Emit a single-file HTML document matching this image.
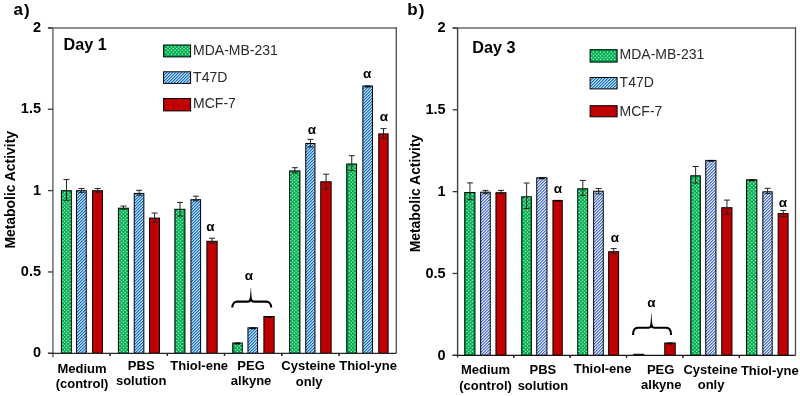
<!DOCTYPE html><html><head><meta charset="utf-8"><style>html,body{margin:0;padding:0;background:#fff;}svg{display:block;will-change:transform;}text{font-family:"Liberation Sans", sans-serif;}</style></head><body>
<svg width="800" height="396" viewBox="0 0 800 396">
<defs>
<pattern id="hatchA" patternUnits="userSpaceOnUse" width="3" height="3"><rect width="3" height="3" fill="#fff"/><path d="M1.35 0H3L0 3V1.35ZM3 1.35V3H1.35Z" fill="#0066C2"/></pattern>
<pattern id="hatchB" patternUnits="userSpaceOnUse" width="3" height="3"><rect width="3" height="3" fill="#fff"/><path d="M1.5 0H3L0 3V1.5ZM3 1.5V3H1.5Z" fill="#2C5CC6"/></pattern>
</defs>
<rect width="800" height="396" fill="#fff"/>
<path d="M47.9 27.9H396.3" stroke="#686868" stroke-width="1.5" fill="none"/>
<path d="M396.3 27.2V353.3" stroke="#4A4A4A" stroke-width="1.3" fill="none"/>
<rect x="61.4" y="190.7" width="9.95" height="162.6" fill="#00AD4F" stroke="#000" stroke-width="1"/>
<path d="M64.08 192.24h1.25v1.25h-1.25zM67.64 192.24h1.25v1.25h-1.25zM62.3 194.02h1.25v1.25h-1.25zM65.86 194.02h1.25v1.25h-1.25zM69.42 194.02h1.25v1.25h-1.25zM64.08 195.8h1.25v1.25h-1.25zM67.64 195.8h1.25v1.25h-1.25zM62.3 197.58h1.25v1.25h-1.25zM65.86 197.58h1.25v1.25h-1.25zM69.42 197.58h1.25v1.25h-1.25zM64.08 199.36h1.25v1.25h-1.25zM67.64 199.36h1.25v1.25h-1.25zM62.3 201.14h1.25v1.25h-1.25zM65.86 201.14h1.25v1.25h-1.25zM69.42 201.14h1.25v1.25h-1.25zM64.08 202.92h1.25v1.25h-1.25zM67.64 202.92h1.25v1.25h-1.25zM62.3 204.7h1.25v1.25h-1.25zM65.86 204.7h1.25v1.25h-1.25zM69.42 204.7h1.25v1.25h-1.25zM64.08 206.48h1.25v1.25h-1.25zM67.64 206.48h1.25v1.25h-1.25zM62.3 208.26h1.25v1.25h-1.25zM65.86 208.26h1.25v1.25h-1.25zM69.42 208.26h1.25v1.25h-1.25zM64.08 210.04h1.25v1.25h-1.25zM67.64 210.04h1.25v1.25h-1.25zM62.3 211.82h1.25v1.25h-1.25zM65.86 211.82h1.25v1.25h-1.25zM69.42 211.82h1.25v1.25h-1.25zM64.08 213.6h1.25v1.25h-1.25zM67.64 213.6h1.25v1.25h-1.25zM62.3 215.38h1.25v1.25h-1.25zM65.86 215.38h1.25v1.25h-1.25zM69.42 215.38h1.25v1.25h-1.25zM64.08 217.16h1.25v1.25h-1.25zM67.64 217.16h1.25v1.25h-1.25zM62.3 218.94h1.25v1.25h-1.25zM65.86 218.94h1.25v1.25h-1.25zM69.42 218.94h1.25v1.25h-1.25zM64.08 220.72h1.25v1.25h-1.25zM67.64 220.72h1.25v1.25h-1.25zM62.3 222.5h1.25v1.25h-1.25zM65.86 222.5h1.25v1.25h-1.25zM69.42 222.5h1.25v1.25h-1.25zM64.08 224.28h1.25v1.25h-1.25zM67.64 224.28h1.25v1.25h-1.25zM62.3 226.06h1.25v1.25h-1.25zM65.86 226.06h1.25v1.25h-1.25zM69.42 226.06h1.25v1.25h-1.25zM64.08 227.84h1.25v1.25h-1.25zM67.64 227.84h1.25v1.25h-1.25zM62.3 229.62h1.25v1.25h-1.25zM65.86 229.62h1.25v1.25h-1.25zM69.42 229.62h1.25v1.25h-1.25zM64.08 231.4h1.25v1.25h-1.25zM67.64 231.4h1.25v1.25h-1.25zM62.3 233.18h1.25v1.25h-1.25zM65.86 233.18h1.25v1.25h-1.25zM69.42 233.18h1.25v1.25h-1.25zM64.08 234.96h1.25v1.25h-1.25zM67.64 234.96h1.25v1.25h-1.25zM62.3 236.74h1.25v1.25h-1.25zM65.86 236.74h1.25v1.25h-1.25zM69.42 236.74h1.25v1.25h-1.25zM64.08 238.52h1.25v1.25h-1.25zM67.64 238.52h1.25v1.25h-1.25zM62.3 240.3h1.25v1.25h-1.25zM65.86 240.3h1.25v1.25h-1.25zM69.42 240.3h1.25v1.25h-1.25zM64.08 242.08h1.25v1.25h-1.25zM67.64 242.08h1.25v1.25h-1.25zM62.3 243.86h1.25v1.25h-1.25zM65.86 243.86h1.25v1.25h-1.25zM69.42 243.86h1.25v1.25h-1.25zM64.08 245.64h1.25v1.25h-1.25zM67.64 245.64h1.25v1.25h-1.25zM62.3 247.42h1.25v1.25h-1.25zM65.86 247.42h1.25v1.25h-1.25zM69.42 247.42h1.25v1.25h-1.25zM64.08 249.2h1.25v1.25h-1.25zM67.64 249.2h1.25v1.25h-1.25zM62.3 250.98h1.25v1.25h-1.25zM65.86 250.98h1.25v1.25h-1.25zM69.42 250.98h1.25v1.25h-1.25zM64.08 252.76h1.25v1.25h-1.25zM67.64 252.76h1.25v1.25h-1.25zM62.3 254.54h1.25v1.25h-1.25zM65.86 254.54h1.25v1.25h-1.25zM69.42 254.54h1.25v1.25h-1.25zM64.08 256.32h1.25v1.25h-1.25zM67.64 256.32h1.25v1.25h-1.25zM62.3 258.1h1.25v1.25h-1.25zM65.86 258.1h1.25v1.25h-1.25zM69.42 258.1h1.25v1.25h-1.25zM64.08 259.88h1.25v1.25h-1.25zM67.64 259.88h1.25v1.25h-1.25zM62.3 261.66h1.25v1.25h-1.25zM65.86 261.66h1.25v1.25h-1.25zM69.42 261.66h1.25v1.25h-1.25zM64.08 263.44h1.25v1.25h-1.25zM67.64 263.44h1.25v1.25h-1.25zM62.3 265.22h1.25v1.25h-1.25zM65.86 265.22h1.25v1.25h-1.25zM69.42 265.22h1.25v1.25h-1.25zM64.08 267h1.25v1.25h-1.25zM67.64 267h1.25v1.25h-1.25zM62.3 268.78h1.25v1.25h-1.25zM65.86 268.78h1.25v1.25h-1.25zM69.42 268.78h1.25v1.25h-1.25zM64.08 270.56h1.25v1.25h-1.25zM67.64 270.56h1.25v1.25h-1.25zM62.3 272.34h1.25v1.25h-1.25zM65.86 272.34h1.25v1.25h-1.25zM69.42 272.34h1.25v1.25h-1.25zM64.08 274.12h1.25v1.25h-1.25zM67.64 274.12h1.25v1.25h-1.25zM62.3 275.9h1.25v1.25h-1.25zM65.86 275.9h1.25v1.25h-1.25zM69.42 275.9h1.25v1.25h-1.25zM64.08 277.68h1.25v1.25h-1.25zM67.64 277.68h1.25v1.25h-1.25zM62.3 279.46h1.25v1.25h-1.25zM65.86 279.46h1.25v1.25h-1.25zM69.42 279.46h1.25v1.25h-1.25zM64.08 281.24h1.25v1.25h-1.25zM67.64 281.24h1.25v1.25h-1.25zM62.3 283.02h1.25v1.25h-1.25zM65.86 283.02h1.25v1.25h-1.25zM69.42 283.02h1.25v1.25h-1.25zM64.08 284.8h1.25v1.25h-1.25zM67.64 284.8h1.25v1.25h-1.25zM62.3 286.58h1.25v1.25h-1.25zM65.86 286.58h1.25v1.25h-1.25zM69.42 286.58h1.25v1.25h-1.25zM64.08 288.36h1.25v1.25h-1.25zM67.64 288.36h1.25v1.25h-1.25zM62.3 290.14h1.25v1.25h-1.25zM65.86 290.14h1.25v1.25h-1.25zM69.42 290.14h1.25v1.25h-1.25zM64.08 291.92h1.25v1.25h-1.25zM67.64 291.92h1.25v1.25h-1.25zM62.3 293.7h1.25v1.25h-1.25zM65.86 293.7h1.25v1.25h-1.25zM69.42 293.7h1.25v1.25h-1.25zM64.08 295.48h1.25v1.25h-1.25zM67.64 295.48h1.25v1.25h-1.25zM62.3 297.26h1.25v1.25h-1.25zM65.86 297.26h1.25v1.25h-1.25zM69.42 297.26h1.25v1.25h-1.25zM64.08 299.04h1.25v1.25h-1.25zM67.64 299.04h1.25v1.25h-1.25zM62.3 300.82h1.25v1.25h-1.25zM65.86 300.82h1.25v1.25h-1.25zM69.42 300.82h1.25v1.25h-1.25zM64.08 302.6h1.25v1.25h-1.25zM67.64 302.6h1.25v1.25h-1.25zM62.3 304.38h1.25v1.25h-1.25zM65.86 304.38h1.25v1.25h-1.25zM69.42 304.38h1.25v1.25h-1.25zM64.08 306.16h1.25v1.25h-1.25zM67.64 306.16h1.25v1.25h-1.25zM62.3 307.94h1.25v1.25h-1.25zM65.86 307.94h1.25v1.25h-1.25zM69.42 307.94h1.25v1.25h-1.25zM64.08 309.72h1.25v1.25h-1.25zM67.64 309.72h1.25v1.25h-1.25zM62.3 311.5h1.25v1.25h-1.25zM65.86 311.5h1.25v1.25h-1.25zM69.42 311.5h1.25v1.25h-1.25zM64.08 313.28h1.25v1.25h-1.25zM67.64 313.28h1.25v1.25h-1.25zM62.3 315.06h1.25v1.25h-1.25zM65.86 315.06h1.25v1.25h-1.25zM69.42 315.06h1.25v1.25h-1.25zM64.08 316.84h1.25v1.25h-1.25zM67.64 316.84h1.25v1.25h-1.25zM62.3 318.62h1.25v1.25h-1.25zM65.86 318.62h1.25v1.25h-1.25zM69.42 318.62h1.25v1.25h-1.25zM64.08 320.4h1.25v1.25h-1.25zM67.64 320.4h1.25v1.25h-1.25zM62.3 322.18h1.25v1.25h-1.25zM65.86 322.18h1.25v1.25h-1.25zM69.42 322.18h1.25v1.25h-1.25zM64.08 323.96h1.25v1.25h-1.25zM67.64 323.96h1.25v1.25h-1.25zM62.3 325.74h1.25v1.25h-1.25zM65.86 325.74h1.25v1.25h-1.25zM69.42 325.74h1.25v1.25h-1.25zM64.08 327.52h1.25v1.25h-1.25zM67.64 327.52h1.25v1.25h-1.25zM62.3 329.3h1.25v1.25h-1.25zM65.86 329.3h1.25v1.25h-1.25zM69.42 329.3h1.25v1.25h-1.25zM64.08 331.08h1.25v1.25h-1.25zM67.64 331.08h1.25v1.25h-1.25zM62.3 332.86h1.25v1.25h-1.25zM65.86 332.86h1.25v1.25h-1.25zM69.42 332.86h1.25v1.25h-1.25zM64.08 334.64h1.25v1.25h-1.25zM67.64 334.64h1.25v1.25h-1.25zM62.3 336.42h1.25v1.25h-1.25zM65.86 336.42h1.25v1.25h-1.25zM69.42 336.42h1.25v1.25h-1.25zM64.08 338.2h1.25v1.25h-1.25zM67.64 338.2h1.25v1.25h-1.25zM62.3 339.98h1.25v1.25h-1.25zM65.86 339.98h1.25v1.25h-1.25zM69.42 339.98h1.25v1.25h-1.25zM64.08 341.76h1.25v1.25h-1.25zM67.64 341.76h1.25v1.25h-1.25zM62.3 343.54h1.25v1.25h-1.25zM65.86 343.54h1.25v1.25h-1.25zM69.42 343.54h1.25v1.25h-1.25zM64.08 345.32h1.25v1.25h-1.25zM67.64 345.32h1.25v1.25h-1.25zM62.3 347.1h1.25v1.25h-1.25zM65.86 347.1h1.25v1.25h-1.25zM69.42 347.1h1.25v1.25h-1.25zM64.08 348.88h1.25v1.25h-1.25zM67.64 348.88h1.25v1.25h-1.25zM62.3 350.66h1.25v1.25h-1.25zM65.86 350.66h1.25v1.25h-1.25zM69.42 350.66h1.25v1.25h-1.25z" fill="#B4F2CA"/>
<path d="M66.47 179.6V200.3M63.47 179.6H69.47M63.47 200.3H69.47" stroke="#222" stroke-width="1" fill="none"/>
<rect x="76.55" y="190.7" width="9.7" height="162.6" fill="url(#hatchA)" stroke="#000" stroke-width="1"/>
<path d="M81.5 188.5V192.4M78.5 188.5H84.5M78.5 192.4H84.5" stroke="#222" stroke-width="1" fill="none"/>
<rect x="92.55" y="190.7" width="9.9" height="162.6" fill="#C00000" stroke="#000" stroke-width="1"/>
<path d="M97.6 188.5V192.2M94.6 188.5H100.6M94.6 192.2H100.6" stroke="#222" stroke-width="1" fill="none"/>
<rect x="118.4" y="208.2" width="9.95" height="145.1" fill="#00AD4F" stroke="#000" stroke-width="1"/>
<path d="M121.04 210.04h1.25v1.25h-1.25zM124.6 210.04h1.25v1.25h-1.25zM119.26 211.82h1.25v1.25h-1.25zM122.82 211.82h1.25v1.25h-1.25zM126.38 211.82h1.25v1.25h-1.25zM121.04 213.6h1.25v1.25h-1.25zM124.6 213.6h1.25v1.25h-1.25zM119.26 215.38h1.25v1.25h-1.25zM122.82 215.38h1.25v1.25h-1.25zM126.38 215.38h1.25v1.25h-1.25zM121.04 217.16h1.25v1.25h-1.25zM124.6 217.16h1.25v1.25h-1.25zM119.26 218.94h1.25v1.25h-1.25zM122.82 218.94h1.25v1.25h-1.25zM126.38 218.94h1.25v1.25h-1.25zM121.04 220.72h1.25v1.25h-1.25zM124.6 220.72h1.25v1.25h-1.25zM119.26 222.5h1.25v1.25h-1.25zM122.82 222.5h1.25v1.25h-1.25zM126.38 222.5h1.25v1.25h-1.25zM121.04 224.28h1.25v1.25h-1.25zM124.6 224.28h1.25v1.25h-1.25zM119.26 226.06h1.25v1.25h-1.25zM122.82 226.06h1.25v1.25h-1.25zM126.38 226.06h1.25v1.25h-1.25zM121.04 227.84h1.25v1.25h-1.25zM124.6 227.84h1.25v1.25h-1.25zM119.26 229.62h1.25v1.25h-1.25zM122.82 229.62h1.25v1.25h-1.25zM126.38 229.62h1.25v1.25h-1.25zM121.04 231.4h1.25v1.25h-1.25zM124.6 231.4h1.25v1.25h-1.25zM119.26 233.18h1.25v1.25h-1.25zM122.82 233.18h1.25v1.25h-1.25zM126.38 233.18h1.25v1.25h-1.25zM121.04 234.96h1.25v1.25h-1.25zM124.6 234.96h1.25v1.25h-1.25zM119.26 236.74h1.25v1.25h-1.25zM122.82 236.74h1.25v1.25h-1.25zM126.38 236.74h1.25v1.25h-1.25zM121.04 238.52h1.25v1.25h-1.25zM124.6 238.52h1.25v1.25h-1.25zM119.26 240.3h1.25v1.25h-1.25zM122.82 240.3h1.25v1.25h-1.25zM126.38 240.3h1.25v1.25h-1.25zM121.04 242.08h1.25v1.25h-1.25zM124.6 242.08h1.25v1.25h-1.25zM119.26 243.86h1.25v1.25h-1.25zM122.82 243.86h1.25v1.25h-1.25zM126.38 243.86h1.25v1.25h-1.25zM121.04 245.64h1.25v1.25h-1.25zM124.6 245.64h1.25v1.25h-1.25zM119.26 247.42h1.25v1.25h-1.25zM122.82 247.42h1.25v1.25h-1.25zM126.38 247.42h1.25v1.25h-1.25zM121.04 249.2h1.25v1.25h-1.25zM124.6 249.2h1.25v1.25h-1.25zM119.26 250.98h1.25v1.25h-1.25zM122.82 250.98h1.25v1.25h-1.25zM126.38 250.98h1.25v1.25h-1.25zM121.04 252.76h1.25v1.25h-1.25zM124.6 252.76h1.25v1.25h-1.25zM119.26 254.54h1.25v1.25h-1.25zM122.82 254.54h1.25v1.25h-1.25zM126.38 254.54h1.25v1.25h-1.25zM121.04 256.32h1.25v1.25h-1.25zM124.6 256.32h1.25v1.25h-1.25zM119.26 258.1h1.25v1.25h-1.25zM122.82 258.1h1.25v1.25h-1.25zM126.38 258.1h1.25v1.25h-1.25zM121.04 259.88h1.25v1.25h-1.25zM124.6 259.88h1.25v1.25h-1.25zM119.26 261.66h1.25v1.25h-1.25zM122.82 261.66h1.25v1.25h-1.25zM126.38 261.66h1.25v1.25h-1.25zM121.04 263.44h1.25v1.25h-1.25zM124.6 263.44h1.25v1.25h-1.25zM119.26 265.22h1.25v1.25h-1.25zM122.82 265.22h1.25v1.25h-1.25zM126.38 265.22h1.25v1.25h-1.25zM121.04 267h1.25v1.25h-1.25zM124.6 267h1.25v1.25h-1.25zM119.26 268.78h1.25v1.25h-1.25zM122.82 268.78h1.25v1.25h-1.25zM126.38 268.78h1.25v1.25h-1.25zM121.04 270.56h1.25v1.25h-1.25zM124.6 270.56h1.25v1.25h-1.25zM119.26 272.34h1.25v1.25h-1.25zM122.82 272.34h1.25v1.25h-1.25zM126.38 272.34h1.25v1.25h-1.25zM121.04 274.12h1.25v1.25h-1.25zM124.6 274.12h1.25v1.25h-1.25zM119.26 275.9h1.25v1.25h-1.25zM122.82 275.9h1.25v1.25h-1.25zM126.38 275.9h1.25v1.25h-1.25zM121.04 277.68h1.25v1.25h-1.25zM124.6 277.68h1.25v1.25h-1.25zM119.26 279.46h1.25v1.25h-1.25zM122.82 279.46h1.25v1.25h-1.25zM126.38 279.46h1.25v1.25h-1.25zM121.04 281.24h1.25v1.25h-1.25zM124.6 281.24h1.25v1.25h-1.25zM119.26 283.02h1.25v1.25h-1.25zM122.82 283.02h1.25v1.25h-1.25zM126.38 283.02h1.25v1.25h-1.25zM121.04 284.8h1.25v1.25h-1.25zM124.6 284.8h1.25v1.25h-1.25zM119.26 286.58h1.25v1.25h-1.25zM122.82 286.58h1.25v1.25h-1.25zM126.38 286.58h1.25v1.25h-1.25zM121.04 288.36h1.25v1.25h-1.25zM124.6 288.36h1.25v1.25h-1.25zM119.26 290.14h1.25v1.25h-1.25zM122.82 290.14h1.25v1.25h-1.25zM126.38 290.14h1.25v1.25h-1.25zM121.04 291.92h1.25v1.25h-1.25zM124.6 291.92h1.25v1.25h-1.25zM119.26 293.7h1.25v1.25h-1.25zM122.82 293.7h1.25v1.25h-1.25zM126.38 293.7h1.25v1.25h-1.25zM121.04 295.48h1.25v1.25h-1.25zM124.6 295.48h1.25v1.25h-1.25zM119.26 297.26h1.25v1.25h-1.25zM122.82 297.26h1.25v1.25h-1.25zM126.38 297.26h1.25v1.25h-1.25zM121.04 299.04h1.25v1.25h-1.25zM124.6 299.04h1.25v1.25h-1.25zM119.26 300.82h1.25v1.25h-1.25zM122.82 300.82h1.25v1.25h-1.25zM126.38 300.82h1.25v1.25h-1.25zM121.04 302.6h1.25v1.25h-1.25zM124.6 302.6h1.25v1.25h-1.25zM119.26 304.38h1.25v1.25h-1.25zM122.82 304.38h1.25v1.25h-1.25zM126.38 304.38h1.25v1.25h-1.25zM121.04 306.16h1.25v1.25h-1.25zM124.6 306.16h1.25v1.25h-1.25zM119.26 307.94h1.25v1.25h-1.25zM122.82 307.94h1.25v1.25h-1.25zM126.38 307.94h1.25v1.25h-1.25zM121.04 309.72h1.25v1.25h-1.25zM124.6 309.72h1.25v1.25h-1.25zM119.26 311.5h1.25v1.25h-1.25zM122.82 311.5h1.25v1.25h-1.25zM126.38 311.5h1.25v1.25h-1.25zM121.04 313.28h1.25v1.25h-1.25zM124.6 313.28h1.25v1.25h-1.25zM119.26 315.06h1.25v1.25h-1.25zM122.82 315.06h1.25v1.25h-1.25zM126.38 315.06h1.25v1.25h-1.25zM121.04 316.84h1.25v1.25h-1.25zM124.6 316.84h1.25v1.25h-1.25zM119.26 318.62h1.25v1.25h-1.25zM122.82 318.62h1.25v1.25h-1.25zM126.38 318.62h1.25v1.25h-1.25zM121.04 320.4h1.25v1.25h-1.25zM124.6 320.4h1.25v1.25h-1.25zM119.26 322.18h1.25v1.25h-1.25zM122.82 322.18h1.25v1.25h-1.25zM126.38 322.18h1.25v1.25h-1.25zM121.04 323.96h1.25v1.25h-1.25zM124.6 323.96h1.25v1.25h-1.25zM119.26 325.74h1.25v1.25h-1.25zM122.82 325.74h1.25v1.25h-1.25zM126.38 325.74h1.25v1.25h-1.25zM121.04 327.52h1.25v1.25h-1.25zM124.6 327.52h1.25v1.25h-1.25zM119.26 329.3h1.25v1.25h-1.25zM122.82 329.3h1.25v1.25h-1.25zM126.38 329.3h1.25v1.25h-1.25zM121.04 331.08h1.25v1.25h-1.25zM124.6 331.08h1.25v1.25h-1.25zM119.26 332.86h1.25v1.25h-1.25zM122.82 332.86h1.25v1.25h-1.25zM126.38 332.86h1.25v1.25h-1.25zM121.04 334.64h1.25v1.25h-1.25zM124.6 334.64h1.25v1.25h-1.25zM119.26 336.42h1.25v1.25h-1.25zM122.82 336.42h1.25v1.25h-1.25zM126.38 336.42h1.25v1.25h-1.25zM121.04 338.2h1.25v1.25h-1.25zM124.6 338.2h1.25v1.25h-1.25zM119.26 339.98h1.25v1.25h-1.25zM122.82 339.98h1.25v1.25h-1.25zM126.38 339.98h1.25v1.25h-1.25zM121.04 341.76h1.25v1.25h-1.25zM124.6 341.76h1.25v1.25h-1.25zM119.26 343.54h1.25v1.25h-1.25zM122.82 343.54h1.25v1.25h-1.25zM126.38 343.54h1.25v1.25h-1.25zM121.04 345.32h1.25v1.25h-1.25zM124.6 345.32h1.25v1.25h-1.25zM119.26 347.1h1.25v1.25h-1.25zM122.82 347.1h1.25v1.25h-1.25zM126.38 347.1h1.25v1.25h-1.25zM121.04 348.88h1.25v1.25h-1.25zM124.6 348.88h1.25v1.25h-1.25zM119.26 350.66h1.25v1.25h-1.25zM122.82 350.66h1.25v1.25h-1.25zM126.38 350.66h1.25v1.25h-1.25z" fill="#B4F2CA"/>
<path d="M123.47 206.1V209.2M120.47 206.1H126.47M120.47 209.2H126.47" stroke="#222" stroke-width="1" fill="none"/>
<rect x="134.25" y="193.4" width="9.6" height="159.9" fill="url(#hatchA)" stroke="#000" stroke-width="1"/>
<path d="M139.15 190.3V195.2M136.15 190.3H142.15M136.15 195.2H142.15" stroke="#222" stroke-width="1" fill="none"/>
<rect x="149.55" y="218.1" width="9.9" height="135.2" fill="#C00000" stroke="#000" stroke-width="1"/>
<path d="M154.6 213V222.4M151.6 213H157.6M151.6 222.4H157.6" stroke="#222" stroke-width="1" fill="none"/>
<rect x="174.9" y="209.3" width="10.05" height="144" fill="#00AD4F" stroke="#000" stroke-width="1"/>
<path d="M178 210.04h1.25v1.25h-1.25zM181.56 210.04h1.25v1.25h-1.25zM176.22 211.82h1.25v1.25h-1.25zM179.78 211.82h1.25v1.25h-1.25zM178 213.6h1.25v1.25h-1.25zM181.56 213.6h1.25v1.25h-1.25zM176.22 215.38h1.25v1.25h-1.25zM179.78 215.38h1.25v1.25h-1.25zM178 217.16h1.25v1.25h-1.25zM181.56 217.16h1.25v1.25h-1.25zM176.22 218.94h1.25v1.25h-1.25zM179.78 218.94h1.25v1.25h-1.25zM178 220.72h1.25v1.25h-1.25zM181.56 220.72h1.25v1.25h-1.25zM176.22 222.5h1.25v1.25h-1.25zM179.78 222.5h1.25v1.25h-1.25zM178 224.28h1.25v1.25h-1.25zM181.56 224.28h1.25v1.25h-1.25zM176.22 226.06h1.25v1.25h-1.25zM179.78 226.06h1.25v1.25h-1.25zM178 227.84h1.25v1.25h-1.25zM181.56 227.84h1.25v1.25h-1.25zM176.22 229.62h1.25v1.25h-1.25zM179.78 229.62h1.25v1.25h-1.25zM178 231.4h1.25v1.25h-1.25zM181.56 231.4h1.25v1.25h-1.25zM176.22 233.18h1.25v1.25h-1.25zM179.78 233.18h1.25v1.25h-1.25zM178 234.96h1.25v1.25h-1.25zM181.56 234.96h1.25v1.25h-1.25zM176.22 236.74h1.25v1.25h-1.25zM179.78 236.74h1.25v1.25h-1.25zM178 238.52h1.25v1.25h-1.25zM181.56 238.52h1.25v1.25h-1.25zM176.22 240.3h1.25v1.25h-1.25zM179.78 240.3h1.25v1.25h-1.25zM178 242.08h1.25v1.25h-1.25zM181.56 242.08h1.25v1.25h-1.25zM176.22 243.86h1.25v1.25h-1.25zM179.78 243.86h1.25v1.25h-1.25zM178 245.64h1.25v1.25h-1.25zM181.56 245.64h1.25v1.25h-1.25zM176.22 247.42h1.25v1.25h-1.25zM179.78 247.42h1.25v1.25h-1.25zM178 249.2h1.25v1.25h-1.25zM181.56 249.2h1.25v1.25h-1.25zM176.22 250.98h1.25v1.25h-1.25zM179.78 250.98h1.25v1.25h-1.25zM178 252.76h1.25v1.25h-1.25zM181.56 252.76h1.25v1.25h-1.25zM176.22 254.54h1.25v1.25h-1.25zM179.78 254.54h1.25v1.25h-1.25zM178 256.32h1.25v1.25h-1.25zM181.56 256.32h1.25v1.25h-1.25zM176.22 258.1h1.25v1.25h-1.25zM179.78 258.1h1.25v1.25h-1.25zM178 259.88h1.25v1.25h-1.25zM181.56 259.88h1.25v1.25h-1.25zM176.22 261.66h1.25v1.25h-1.25zM179.78 261.66h1.25v1.25h-1.25zM178 263.44h1.25v1.25h-1.25zM181.56 263.44h1.25v1.25h-1.25zM176.22 265.22h1.25v1.25h-1.25zM179.78 265.22h1.25v1.25h-1.25zM178 267h1.25v1.25h-1.25zM181.56 267h1.25v1.25h-1.25zM176.22 268.78h1.25v1.25h-1.25zM179.78 268.78h1.25v1.25h-1.25zM178 270.56h1.25v1.25h-1.25zM181.56 270.56h1.25v1.25h-1.25zM176.22 272.34h1.25v1.25h-1.25zM179.78 272.34h1.25v1.25h-1.25zM178 274.12h1.25v1.25h-1.25zM181.56 274.12h1.25v1.25h-1.25zM176.22 275.9h1.25v1.25h-1.25zM179.78 275.9h1.25v1.25h-1.25zM178 277.68h1.25v1.25h-1.25zM181.56 277.68h1.25v1.25h-1.25zM176.22 279.46h1.25v1.25h-1.25zM179.78 279.46h1.25v1.25h-1.25zM178 281.24h1.25v1.25h-1.25zM181.56 281.24h1.25v1.25h-1.25zM176.22 283.02h1.25v1.25h-1.25zM179.78 283.02h1.25v1.25h-1.25zM178 284.8h1.25v1.25h-1.25zM181.56 284.8h1.25v1.25h-1.25zM176.22 286.58h1.25v1.25h-1.25zM179.78 286.58h1.25v1.25h-1.25zM178 288.36h1.25v1.25h-1.25zM181.56 288.36h1.25v1.25h-1.25zM176.22 290.14h1.25v1.25h-1.25zM179.78 290.14h1.25v1.25h-1.25zM178 291.92h1.25v1.25h-1.25zM181.56 291.92h1.25v1.25h-1.25zM176.22 293.7h1.25v1.25h-1.25zM179.78 293.7h1.25v1.25h-1.25zM178 295.48h1.25v1.25h-1.25zM181.56 295.48h1.25v1.25h-1.25zM176.22 297.26h1.25v1.25h-1.25zM179.78 297.26h1.25v1.25h-1.25zM178 299.04h1.25v1.25h-1.25zM181.56 299.04h1.25v1.25h-1.25zM176.22 300.82h1.25v1.25h-1.25zM179.78 300.82h1.25v1.25h-1.25zM178 302.6h1.25v1.25h-1.25zM181.56 302.6h1.25v1.25h-1.25zM176.22 304.38h1.25v1.25h-1.25zM179.78 304.38h1.25v1.25h-1.25zM178 306.16h1.25v1.25h-1.25zM181.56 306.16h1.25v1.25h-1.25zM176.22 307.94h1.25v1.25h-1.25zM179.78 307.94h1.25v1.25h-1.25zM178 309.72h1.25v1.25h-1.25zM181.56 309.72h1.25v1.25h-1.25zM176.22 311.5h1.25v1.25h-1.25zM179.78 311.5h1.25v1.25h-1.25zM178 313.28h1.25v1.25h-1.25zM181.56 313.28h1.25v1.25h-1.25zM176.22 315.06h1.25v1.25h-1.25zM179.78 315.06h1.25v1.25h-1.25zM178 316.84h1.25v1.25h-1.25zM181.56 316.84h1.25v1.25h-1.25zM176.22 318.62h1.25v1.25h-1.25zM179.78 318.62h1.25v1.25h-1.25zM178 320.4h1.25v1.25h-1.25zM181.56 320.4h1.25v1.25h-1.25zM176.22 322.18h1.25v1.25h-1.25zM179.78 322.18h1.25v1.25h-1.25zM178 323.96h1.25v1.25h-1.25zM181.56 323.96h1.25v1.25h-1.25zM176.22 325.74h1.25v1.25h-1.25zM179.78 325.74h1.25v1.25h-1.25zM178 327.52h1.25v1.25h-1.25zM181.56 327.52h1.25v1.25h-1.25zM176.22 329.3h1.25v1.25h-1.25zM179.78 329.3h1.25v1.25h-1.25zM178 331.08h1.25v1.25h-1.25zM181.56 331.08h1.25v1.25h-1.25zM176.22 332.86h1.25v1.25h-1.25zM179.78 332.86h1.25v1.25h-1.25zM178 334.64h1.25v1.25h-1.25zM181.56 334.64h1.25v1.25h-1.25zM176.22 336.42h1.25v1.25h-1.25zM179.78 336.42h1.25v1.25h-1.25zM178 338.2h1.25v1.25h-1.25zM181.56 338.2h1.25v1.25h-1.25zM176.22 339.98h1.25v1.25h-1.25zM179.78 339.98h1.25v1.25h-1.25zM178 341.76h1.25v1.25h-1.25zM181.56 341.76h1.25v1.25h-1.25zM176.22 343.54h1.25v1.25h-1.25zM179.78 343.54h1.25v1.25h-1.25zM178 345.32h1.25v1.25h-1.25zM181.56 345.32h1.25v1.25h-1.25zM176.22 347.1h1.25v1.25h-1.25zM179.78 347.1h1.25v1.25h-1.25zM178 348.88h1.25v1.25h-1.25zM181.56 348.88h1.25v1.25h-1.25zM176.22 350.66h1.25v1.25h-1.25zM179.78 350.66h1.25v1.25h-1.25z" fill="#B4F2CA"/>
<path d="M180.03 202.4V216.1M177.03 202.4H183.03M177.03 216.1H183.03" stroke="#222" stroke-width="1" fill="none"/>
<rect x="190.95" y="199.7" width="9.65" height="153.6" fill="url(#hatchA)" stroke="#000" stroke-width="1"/>
<path d="M195.88 196.2V200.8M192.88 196.2H198.88M192.88 200.8H198.88" stroke="#222" stroke-width="1" fill="none"/>
<rect x="206.9" y="241.3" width="10.25" height="112" fill="#C00000" stroke="#000" stroke-width="1"/>
<path d="M212.12 238.2V243.3M209.12 238.2H215.12M209.12 243.3H215.12" stroke="#222" stroke-width="1" fill="none"/>
<rect x="232.75" y="343" width="9.5" height="10.3" fill="#00AD4F" stroke="#000" stroke-width="1"/>
<path d="M236.74 343.54h1.25v1.25h-1.25zM240.3 343.54h1.25v1.25h-1.25zM234.96 345.32h1.25v1.25h-1.25zM238.52 345.32h1.25v1.25h-1.25zM236.74 347.1h1.25v1.25h-1.25zM240.3 347.1h1.25v1.25h-1.25zM234.96 348.88h1.25v1.25h-1.25zM238.52 348.88h1.25v1.25h-1.25zM236.74 350.66h1.25v1.25h-1.25zM240.3 350.66h1.25v1.25h-1.25z" fill="#B4F2CA"/>
<rect x="234.6" y="342.5" width="6" height="1.9" rx="0.8" fill="#0a0a0a"/>
<rect x="247.95" y="327.8" width="9.65" height="25.5" fill="url(#hatchA)" stroke="#000" stroke-width="1"/>
<rect x="249.88" y="327.3" width="6" height="1.9" rx="0.8" fill="#0a0a0a"/>
<rect x="263.9" y="316.5" width="10.25" height="36.8" fill="#C00000" stroke="#000" stroke-width="1"/>
<rect x="266.12" y="316" width="6" height="1.9" rx="0.8" fill="#0a0a0a"/>
<rect x="289.65" y="170.9" width="10.3" height="182.4" fill="#00AD4F" stroke="#000" stroke-width="1"/>
<path d="M290.14 172.66h1.25v1.25h-1.25zM293.7 172.66h1.25v1.25h-1.25zM297.26 172.66h1.25v1.25h-1.25zM291.92 174.44h1.25v1.25h-1.25zM295.48 174.44h1.25v1.25h-1.25zM290.14 176.22h1.25v1.25h-1.25zM293.7 176.22h1.25v1.25h-1.25zM297.26 176.22h1.25v1.25h-1.25zM291.92 178h1.25v1.25h-1.25zM295.48 178h1.25v1.25h-1.25zM290.14 179.78h1.25v1.25h-1.25zM293.7 179.78h1.25v1.25h-1.25zM297.26 179.78h1.25v1.25h-1.25zM291.92 181.56h1.25v1.25h-1.25zM295.48 181.56h1.25v1.25h-1.25zM290.14 183.34h1.25v1.25h-1.25zM293.7 183.34h1.25v1.25h-1.25zM297.26 183.34h1.25v1.25h-1.25zM291.92 185.12h1.25v1.25h-1.25zM295.48 185.12h1.25v1.25h-1.25zM290.14 186.9h1.25v1.25h-1.25zM293.7 186.9h1.25v1.25h-1.25zM297.26 186.9h1.25v1.25h-1.25zM291.92 188.68h1.25v1.25h-1.25zM295.48 188.68h1.25v1.25h-1.25zM290.14 190.46h1.25v1.25h-1.25zM293.7 190.46h1.25v1.25h-1.25zM297.26 190.46h1.25v1.25h-1.25zM291.92 192.24h1.25v1.25h-1.25zM295.48 192.24h1.25v1.25h-1.25zM290.14 194.02h1.25v1.25h-1.25zM293.7 194.02h1.25v1.25h-1.25zM297.26 194.02h1.25v1.25h-1.25zM291.92 195.8h1.25v1.25h-1.25zM295.48 195.8h1.25v1.25h-1.25zM290.14 197.58h1.25v1.25h-1.25zM293.7 197.58h1.25v1.25h-1.25zM297.26 197.58h1.25v1.25h-1.25zM291.92 199.36h1.25v1.25h-1.25zM295.48 199.36h1.25v1.25h-1.25zM290.14 201.14h1.25v1.25h-1.25zM293.7 201.14h1.25v1.25h-1.25zM297.26 201.14h1.25v1.25h-1.25zM291.92 202.92h1.25v1.25h-1.25zM295.48 202.92h1.25v1.25h-1.25zM290.14 204.7h1.25v1.25h-1.25zM293.7 204.7h1.25v1.25h-1.25zM297.26 204.7h1.25v1.25h-1.25zM291.92 206.48h1.25v1.25h-1.25zM295.48 206.48h1.25v1.25h-1.25zM290.14 208.26h1.25v1.25h-1.25zM293.7 208.26h1.25v1.25h-1.25zM297.26 208.26h1.25v1.25h-1.25zM291.92 210.04h1.25v1.25h-1.25zM295.48 210.04h1.25v1.25h-1.25zM290.14 211.82h1.25v1.25h-1.25zM293.7 211.82h1.25v1.25h-1.25zM297.26 211.82h1.25v1.25h-1.25zM291.92 213.6h1.25v1.25h-1.25zM295.48 213.6h1.25v1.25h-1.25zM290.14 215.38h1.25v1.25h-1.25zM293.7 215.38h1.25v1.25h-1.25zM297.26 215.38h1.25v1.25h-1.25zM291.92 217.16h1.25v1.25h-1.25zM295.48 217.16h1.25v1.25h-1.25zM290.14 218.94h1.25v1.25h-1.25zM293.7 218.94h1.25v1.25h-1.25zM297.26 218.94h1.25v1.25h-1.25zM291.92 220.72h1.25v1.25h-1.25zM295.48 220.72h1.25v1.25h-1.25zM290.14 222.5h1.25v1.25h-1.25zM293.7 222.5h1.25v1.25h-1.25zM297.26 222.5h1.25v1.25h-1.25zM291.92 224.28h1.25v1.25h-1.25zM295.48 224.28h1.25v1.25h-1.25zM290.14 226.06h1.25v1.25h-1.25zM293.7 226.06h1.25v1.25h-1.25zM297.26 226.06h1.25v1.25h-1.25zM291.92 227.84h1.25v1.25h-1.25zM295.48 227.84h1.25v1.25h-1.25zM290.14 229.62h1.25v1.25h-1.25zM293.7 229.62h1.25v1.25h-1.25zM297.26 229.62h1.25v1.25h-1.25zM291.92 231.4h1.25v1.25h-1.25zM295.48 231.4h1.25v1.25h-1.25zM290.14 233.18h1.25v1.25h-1.25zM293.7 233.18h1.25v1.25h-1.25zM297.26 233.18h1.25v1.25h-1.25zM291.92 234.96h1.25v1.25h-1.25zM295.48 234.96h1.25v1.25h-1.25zM290.14 236.74h1.25v1.25h-1.25zM293.7 236.74h1.25v1.25h-1.25zM297.26 236.74h1.25v1.25h-1.25zM291.92 238.52h1.25v1.25h-1.25zM295.48 238.52h1.25v1.25h-1.25zM290.14 240.3h1.25v1.25h-1.25zM293.7 240.3h1.25v1.25h-1.25zM297.26 240.3h1.25v1.25h-1.25zM291.92 242.08h1.25v1.25h-1.25zM295.48 242.08h1.25v1.25h-1.25zM290.14 243.86h1.25v1.25h-1.25zM293.7 243.86h1.25v1.25h-1.25zM297.26 243.86h1.25v1.25h-1.25zM291.92 245.64h1.25v1.25h-1.25zM295.48 245.64h1.25v1.25h-1.25zM290.14 247.42h1.25v1.25h-1.25zM293.7 247.42h1.25v1.25h-1.25zM297.26 247.42h1.25v1.25h-1.25zM291.92 249.2h1.25v1.25h-1.25zM295.48 249.2h1.25v1.25h-1.25zM290.14 250.98h1.25v1.25h-1.25zM293.7 250.98h1.25v1.25h-1.25zM297.26 250.98h1.25v1.25h-1.25zM291.92 252.76h1.25v1.25h-1.25zM295.48 252.76h1.25v1.25h-1.25zM290.14 254.54h1.25v1.25h-1.25zM293.7 254.54h1.25v1.25h-1.25zM297.26 254.54h1.25v1.25h-1.25zM291.92 256.32h1.25v1.25h-1.25zM295.48 256.32h1.25v1.25h-1.25zM290.14 258.1h1.25v1.25h-1.25zM293.7 258.1h1.25v1.25h-1.25zM297.26 258.1h1.25v1.25h-1.25zM291.92 259.88h1.25v1.25h-1.25zM295.48 259.88h1.25v1.25h-1.25zM290.14 261.66h1.25v1.25h-1.25zM293.7 261.66h1.25v1.25h-1.25zM297.26 261.66h1.25v1.25h-1.25zM291.92 263.44h1.25v1.25h-1.25zM295.48 263.44h1.25v1.25h-1.25zM290.14 265.22h1.25v1.25h-1.25zM293.7 265.22h1.25v1.25h-1.25zM297.26 265.22h1.25v1.25h-1.25zM291.92 267h1.25v1.25h-1.25zM295.48 267h1.25v1.25h-1.25zM290.14 268.78h1.25v1.25h-1.25zM293.7 268.78h1.25v1.25h-1.25zM297.26 268.78h1.25v1.25h-1.25zM291.92 270.56h1.25v1.25h-1.25zM295.48 270.56h1.25v1.25h-1.25zM290.14 272.34h1.25v1.25h-1.25zM293.7 272.34h1.25v1.25h-1.25zM297.26 272.34h1.25v1.25h-1.25zM291.92 274.12h1.25v1.25h-1.25zM295.48 274.12h1.25v1.25h-1.25zM290.14 275.9h1.25v1.25h-1.25zM293.7 275.9h1.25v1.25h-1.25zM297.26 275.9h1.25v1.25h-1.25zM291.92 277.68h1.25v1.25h-1.25zM295.48 277.68h1.25v1.25h-1.25zM290.14 279.46h1.25v1.25h-1.25zM293.7 279.46h1.25v1.25h-1.25zM297.26 279.46h1.25v1.25h-1.25zM291.92 281.24h1.25v1.25h-1.25zM295.48 281.24h1.25v1.25h-1.25zM290.14 283.02h1.25v1.25h-1.25zM293.7 283.02h1.25v1.25h-1.25zM297.26 283.02h1.25v1.25h-1.25zM291.92 284.8h1.25v1.25h-1.25zM295.48 284.8h1.25v1.25h-1.25zM290.14 286.58h1.25v1.25h-1.25zM293.7 286.58h1.25v1.25h-1.25zM297.26 286.58h1.25v1.25h-1.25zM291.92 288.36h1.25v1.25h-1.25zM295.48 288.36h1.25v1.25h-1.25zM290.14 290.14h1.25v1.25h-1.25zM293.7 290.14h1.25v1.25h-1.25zM297.26 290.14h1.25v1.25h-1.25zM291.92 291.92h1.25v1.25h-1.25zM295.48 291.92h1.25v1.25h-1.25zM290.14 293.7h1.25v1.25h-1.25zM293.7 293.7h1.25v1.25h-1.25zM297.26 293.7h1.25v1.25h-1.25zM291.92 295.48h1.25v1.25h-1.25zM295.48 295.48h1.25v1.25h-1.25zM290.14 297.26h1.25v1.25h-1.25zM293.7 297.26h1.25v1.25h-1.25zM297.26 297.26h1.25v1.25h-1.25zM291.92 299.04h1.25v1.25h-1.25zM295.48 299.04h1.25v1.25h-1.25zM290.14 300.82h1.25v1.25h-1.25zM293.7 300.82h1.25v1.25h-1.25zM297.26 300.82h1.25v1.25h-1.25zM291.92 302.6h1.25v1.25h-1.25zM295.48 302.6h1.25v1.25h-1.25zM290.14 304.38h1.25v1.25h-1.25zM293.7 304.38h1.25v1.25h-1.25zM297.26 304.38h1.25v1.25h-1.25zM291.92 306.16h1.25v1.25h-1.25zM295.48 306.16h1.25v1.25h-1.25zM290.14 307.94h1.25v1.25h-1.25zM293.7 307.94h1.25v1.25h-1.25zM297.26 307.94h1.25v1.25h-1.25zM291.92 309.72h1.25v1.25h-1.25zM295.48 309.72h1.25v1.25h-1.25zM290.14 311.5h1.25v1.25h-1.25zM293.7 311.5h1.25v1.25h-1.25zM297.26 311.5h1.25v1.25h-1.25zM291.92 313.28h1.25v1.25h-1.25zM295.48 313.28h1.25v1.25h-1.25zM290.14 315.06h1.25v1.25h-1.25zM293.7 315.06h1.25v1.25h-1.25zM297.26 315.06h1.25v1.25h-1.25zM291.92 316.84h1.25v1.25h-1.25zM295.48 316.84h1.25v1.25h-1.25zM290.14 318.62h1.25v1.25h-1.25zM293.7 318.62h1.25v1.25h-1.25zM297.26 318.62h1.25v1.25h-1.25zM291.92 320.4h1.25v1.25h-1.25zM295.48 320.4h1.25v1.25h-1.25zM290.14 322.18h1.25v1.25h-1.25zM293.7 322.18h1.25v1.25h-1.25zM297.26 322.18h1.25v1.25h-1.25zM291.92 323.96h1.25v1.25h-1.25zM295.48 323.96h1.25v1.25h-1.25zM290.14 325.74h1.25v1.25h-1.25zM293.7 325.74h1.25v1.25h-1.25zM297.26 325.74h1.25v1.25h-1.25zM291.92 327.52h1.25v1.25h-1.25zM295.48 327.52h1.25v1.25h-1.25zM290.14 329.3h1.25v1.25h-1.25zM293.7 329.3h1.25v1.25h-1.25zM297.26 329.3h1.25v1.25h-1.25zM291.92 331.08h1.25v1.25h-1.25zM295.48 331.08h1.25v1.25h-1.25zM290.14 332.86h1.25v1.25h-1.25zM293.7 332.86h1.25v1.25h-1.25zM297.26 332.86h1.25v1.25h-1.25zM291.92 334.64h1.25v1.25h-1.25zM295.48 334.64h1.25v1.25h-1.25zM290.14 336.42h1.25v1.25h-1.25zM293.7 336.42h1.25v1.25h-1.25zM297.26 336.42h1.25v1.25h-1.25zM291.92 338.2h1.25v1.25h-1.25zM295.48 338.2h1.25v1.25h-1.25zM290.14 339.98h1.25v1.25h-1.25zM293.7 339.98h1.25v1.25h-1.25zM297.26 339.98h1.25v1.25h-1.25zM291.92 341.76h1.25v1.25h-1.25zM295.48 341.76h1.25v1.25h-1.25zM290.14 343.54h1.25v1.25h-1.25zM293.7 343.54h1.25v1.25h-1.25zM297.26 343.54h1.25v1.25h-1.25zM291.92 345.32h1.25v1.25h-1.25zM295.48 345.32h1.25v1.25h-1.25zM290.14 347.1h1.25v1.25h-1.25zM293.7 347.1h1.25v1.25h-1.25zM297.26 347.1h1.25v1.25h-1.25zM291.92 348.88h1.25v1.25h-1.25zM295.48 348.88h1.25v1.25h-1.25zM290.14 350.66h1.25v1.25h-1.25zM293.7 350.66h1.25v1.25h-1.25zM297.26 350.66h1.25v1.25h-1.25z" fill="#B4F2CA"/>
<path d="M294.9 167.7V173M291.9 167.7H297.9M291.9 173H297.9" stroke="#222" stroke-width="1" fill="none"/>
<rect x="305.75" y="143.5" width="9.2" height="209.8" fill="url(#hatchA)" stroke="#000" stroke-width="1"/>
<path d="M310.45 139.4V147M307.45 139.4H313.45M307.45 147H313.45" stroke="#222" stroke-width="1" fill="none"/>
<rect x="320.75" y="181.8" width="10.4" height="171.5" fill="#C00000" stroke="#000" stroke-width="1"/>
<path d="M326.05 174.2V188.9M323.05 174.2H329.05M323.05 188.9H329.05" stroke="#222" stroke-width="1" fill="none"/>
<rect x="346.75" y="164" width="9.8" height="189.3" fill="#00AD4F" stroke="#000" stroke-width="1"/>
<path d="M350.66 165.54h1.25v1.25h-1.25zM354.22 165.54h1.25v1.25h-1.25zM348.88 167.32h1.25v1.25h-1.25zM352.44 167.32h1.25v1.25h-1.25zM350.66 169.1h1.25v1.25h-1.25zM354.22 169.1h1.25v1.25h-1.25zM348.88 170.88h1.25v1.25h-1.25zM352.44 170.88h1.25v1.25h-1.25zM350.66 172.66h1.25v1.25h-1.25zM354.22 172.66h1.25v1.25h-1.25zM348.88 174.44h1.25v1.25h-1.25zM352.44 174.44h1.25v1.25h-1.25zM350.66 176.22h1.25v1.25h-1.25zM354.22 176.22h1.25v1.25h-1.25zM348.88 178h1.25v1.25h-1.25zM352.44 178h1.25v1.25h-1.25zM350.66 179.78h1.25v1.25h-1.25zM354.22 179.78h1.25v1.25h-1.25zM348.88 181.56h1.25v1.25h-1.25zM352.44 181.56h1.25v1.25h-1.25zM350.66 183.34h1.25v1.25h-1.25zM354.22 183.34h1.25v1.25h-1.25zM348.88 185.12h1.25v1.25h-1.25zM352.44 185.12h1.25v1.25h-1.25zM350.66 186.9h1.25v1.25h-1.25zM354.22 186.9h1.25v1.25h-1.25zM348.88 188.68h1.25v1.25h-1.25zM352.44 188.68h1.25v1.25h-1.25zM350.66 190.46h1.25v1.25h-1.25zM354.22 190.46h1.25v1.25h-1.25zM348.88 192.24h1.25v1.25h-1.25zM352.44 192.24h1.25v1.25h-1.25zM350.66 194.02h1.25v1.25h-1.25zM354.22 194.02h1.25v1.25h-1.25zM348.88 195.8h1.25v1.25h-1.25zM352.44 195.8h1.25v1.25h-1.25zM350.66 197.58h1.25v1.25h-1.25zM354.22 197.58h1.25v1.25h-1.25zM348.88 199.36h1.25v1.25h-1.25zM352.44 199.36h1.25v1.25h-1.25zM350.66 201.14h1.25v1.25h-1.25zM354.22 201.14h1.25v1.25h-1.25zM348.88 202.92h1.25v1.25h-1.25zM352.44 202.92h1.25v1.25h-1.25zM350.66 204.7h1.25v1.25h-1.25zM354.22 204.7h1.25v1.25h-1.25zM348.88 206.48h1.25v1.25h-1.25zM352.44 206.48h1.25v1.25h-1.25zM350.66 208.26h1.25v1.25h-1.25zM354.22 208.26h1.25v1.25h-1.25zM348.88 210.04h1.25v1.25h-1.25zM352.44 210.04h1.25v1.25h-1.25zM350.66 211.82h1.25v1.25h-1.25zM354.22 211.82h1.25v1.25h-1.25zM348.88 213.6h1.25v1.25h-1.25zM352.44 213.6h1.25v1.25h-1.25zM350.66 215.38h1.25v1.25h-1.25zM354.22 215.38h1.25v1.25h-1.25zM348.88 217.16h1.25v1.25h-1.25zM352.44 217.16h1.25v1.25h-1.25zM350.66 218.94h1.25v1.25h-1.25zM354.22 218.94h1.25v1.25h-1.25zM348.88 220.72h1.25v1.25h-1.25zM352.44 220.72h1.25v1.25h-1.25zM350.66 222.5h1.25v1.25h-1.25zM354.22 222.5h1.25v1.25h-1.25zM348.88 224.28h1.25v1.25h-1.25zM352.44 224.28h1.25v1.25h-1.25zM350.66 226.06h1.25v1.25h-1.25zM354.22 226.06h1.25v1.25h-1.25zM348.88 227.84h1.25v1.25h-1.25zM352.44 227.84h1.25v1.25h-1.25zM350.66 229.62h1.25v1.25h-1.25zM354.22 229.62h1.25v1.25h-1.25zM348.88 231.4h1.25v1.25h-1.25zM352.44 231.4h1.25v1.25h-1.25zM350.66 233.18h1.25v1.25h-1.25zM354.22 233.18h1.25v1.25h-1.25zM348.88 234.96h1.25v1.25h-1.25zM352.44 234.96h1.25v1.25h-1.25zM350.66 236.74h1.25v1.25h-1.25zM354.22 236.74h1.25v1.25h-1.25zM348.88 238.52h1.25v1.25h-1.25zM352.44 238.52h1.25v1.25h-1.25zM350.66 240.3h1.25v1.25h-1.25zM354.22 240.3h1.25v1.25h-1.25zM348.88 242.08h1.25v1.25h-1.25zM352.44 242.08h1.25v1.25h-1.25zM350.66 243.86h1.25v1.25h-1.25zM354.22 243.86h1.25v1.25h-1.25zM348.88 245.64h1.25v1.25h-1.25zM352.44 245.64h1.25v1.25h-1.25zM350.66 247.42h1.25v1.25h-1.25zM354.22 247.42h1.25v1.25h-1.25zM348.88 249.2h1.25v1.25h-1.25zM352.44 249.2h1.25v1.25h-1.25zM350.66 250.98h1.25v1.25h-1.25zM354.22 250.98h1.25v1.25h-1.25zM348.88 252.76h1.25v1.25h-1.25zM352.44 252.76h1.25v1.25h-1.25zM350.66 254.54h1.25v1.25h-1.25zM354.22 254.54h1.25v1.25h-1.25zM348.88 256.32h1.25v1.25h-1.25zM352.44 256.32h1.25v1.25h-1.25zM350.66 258.1h1.25v1.25h-1.25zM354.22 258.1h1.25v1.25h-1.25zM348.88 259.88h1.25v1.25h-1.25zM352.44 259.88h1.25v1.25h-1.25zM350.66 261.66h1.25v1.25h-1.25zM354.22 261.66h1.25v1.25h-1.25zM348.88 263.44h1.25v1.25h-1.25zM352.44 263.44h1.25v1.25h-1.25zM350.66 265.22h1.25v1.25h-1.25zM354.22 265.22h1.25v1.25h-1.25zM348.88 267h1.25v1.25h-1.25zM352.44 267h1.25v1.25h-1.25zM350.66 268.78h1.25v1.25h-1.25zM354.22 268.78h1.25v1.25h-1.25zM348.88 270.56h1.25v1.25h-1.25zM352.44 270.56h1.25v1.25h-1.25zM350.66 272.34h1.25v1.25h-1.25zM354.22 272.34h1.25v1.25h-1.25zM348.88 274.12h1.25v1.25h-1.25zM352.44 274.12h1.25v1.25h-1.25zM350.66 275.9h1.25v1.25h-1.25zM354.22 275.9h1.25v1.25h-1.25zM348.88 277.68h1.25v1.25h-1.25zM352.44 277.68h1.25v1.25h-1.25zM350.66 279.46h1.25v1.25h-1.25zM354.22 279.46h1.25v1.25h-1.25zM348.88 281.24h1.25v1.25h-1.25zM352.44 281.24h1.25v1.25h-1.25zM350.66 283.02h1.25v1.25h-1.25zM354.22 283.02h1.25v1.25h-1.25zM348.88 284.8h1.25v1.25h-1.25zM352.44 284.8h1.25v1.25h-1.25zM350.66 286.58h1.25v1.25h-1.25zM354.22 286.58h1.25v1.25h-1.25zM348.88 288.36h1.25v1.25h-1.25zM352.44 288.36h1.25v1.25h-1.25zM350.66 290.14h1.25v1.25h-1.25zM354.22 290.14h1.25v1.25h-1.25zM348.88 291.92h1.25v1.25h-1.25zM352.44 291.92h1.25v1.25h-1.25zM350.66 293.7h1.25v1.25h-1.25zM354.22 293.7h1.25v1.25h-1.25zM348.88 295.48h1.25v1.25h-1.25zM352.44 295.48h1.25v1.25h-1.25zM350.66 297.26h1.25v1.25h-1.25zM354.22 297.26h1.25v1.25h-1.25zM348.88 299.04h1.25v1.25h-1.25zM352.44 299.04h1.25v1.25h-1.25zM350.66 300.82h1.25v1.25h-1.25zM354.22 300.82h1.25v1.25h-1.25zM348.88 302.6h1.25v1.25h-1.25zM352.44 302.6h1.25v1.25h-1.25zM350.66 304.38h1.25v1.25h-1.25zM354.22 304.38h1.25v1.25h-1.25zM348.88 306.16h1.25v1.25h-1.25zM352.44 306.16h1.25v1.25h-1.25zM350.66 307.94h1.25v1.25h-1.25zM354.22 307.94h1.25v1.25h-1.25zM348.88 309.72h1.25v1.25h-1.25zM352.44 309.72h1.25v1.25h-1.25zM350.66 311.5h1.25v1.25h-1.25zM354.22 311.5h1.25v1.25h-1.25zM348.88 313.28h1.25v1.25h-1.25zM352.44 313.28h1.25v1.25h-1.25zM350.66 315.06h1.25v1.25h-1.25zM354.22 315.06h1.25v1.25h-1.25zM348.88 316.84h1.25v1.25h-1.25zM352.44 316.84h1.25v1.25h-1.25zM350.66 318.62h1.25v1.25h-1.25zM354.22 318.62h1.25v1.25h-1.25zM348.88 320.4h1.25v1.25h-1.25zM352.44 320.4h1.25v1.25h-1.25zM350.66 322.18h1.25v1.25h-1.25zM354.22 322.18h1.25v1.25h-1.25zM348.88 323.96h1.25v1.25h-1.25zM352.44 323.96h1.25v1.25h-1.25zM350.66 325.74h1.25v1.25h-1.25zM354.22 325.74h1.25v1.25h-1.25zM348.88 327.52h1.25v1.25h-1.25zM352.44 327.52h1.25v1.25h-1.25zM350.66 329.3h1.25v1.25h-1.25zM354.22 329.3h1.25v1.25h-1.25zM348.88 331.08h1.25v1.25h-1.25zM352.44 331.08h1.25v1.25h-1.25zM350.66 332.86h1.25v1.25h-1.25zM354.22 332.86h1.25v1.25h-1.25zM348.88 334.64h1.25v1.25h-1.25zM352.44 334.64h1.25v1.25h-1.25zM350.66 336.42h1.25v1.25h-1.25zM354.22 336.42h1.25v1.25h-1.25zM348.88 338.2h1.25v1.25h-1.25zM352.44 338.2h1.25v1.25h-1.25zM350.66 339.98h1.25v1.25h-1.25zM354.22 339.98h1.25v1.25h-1.25zM348.88 341.76h1.25v1.25h-1.25zM352.44 341.76h1.25v1.25h-1.25zM350.66 343.54h1.25v1.25h-1.25zM354.22 343.54h1.25v1.25h-1.25zM348.88 345.32h1.25v1.25h-1.25zM352.44 345.32h1.25v1.25h-1.25zM350.66 347.1h1.25v1.25h-1.25zM354.22 347.1h1.25v1.25h-1.25zM348.88 348.88h1.25v1.25h-1.25zM352.44 348.88h1.25v1.25h-1.25zM350.66 350.66h1.25v1.25h-1.25zM354.22 350.66h1.25v1.25h-1.25z" fill="#B4F2CA"/>
<path d="M351.75 155.7V170.7M348.75 155.7H354.75M348.75 170.7H354.75" stroke="#222" stroke-width="1" fill="none"/>
<rect x="362.85" y="86" width="9.6" height="267.3" fill="url(#hatchA)" stroke="#000" stroke-width="1"/>
<rect x="364.75" y="85.5" width="6" height="1.9" rx="0.8" fill="#0a0a0a"/>
<rect x="378.75" y="133.9" width="9.35" height="219.4" fill="#C00000" stroke="#000" stroke-width="1"/>
<path d="M383.53 128.6V138.3M380.53 128.6H386.53M380.53 138.3H386.53" stroke="#222" stroke-width="1" fill="none"/>
<path d="M52.9 27.9V357.2" stroke="#7C7C7C" stroke-width="1.7" fill="none"/>
<path d="M47.9 353.3H396.3" stroke="#262626" stroke-width="1.3" fill="none"/>
<path d="M47.9 353.3H52.9" stroke="#383838" stroke-width="1.3" fill="none"/>
<path d="M47.9 271.95H52.9" stroke="#383838" stroke-width="1.3" fill="none"/>
<path d="M47.9 190.6H52.9" stroke="#383838" stroke-width="1.3" fill="none"/>
<path d="M47.9 109.25H52.9" stroke="#383838" stroke-width="1.3" fill="none"/>
<path d="M47.9 27.9H52.9" stroke="#383838" stroke-width="1.3" fill="none"/>
<path d="M110.05 353.3V355.9" stroke="#202020" stroke-width="1.5" fill="none"/>
<path d="M167.3 353.3V355.9" stroke="#202020" stroke-width="1.5" fill="none"/>
<path d="M224.55 353.3V355.9" stroke="#202020" stroke-width="1.5" fill="none"/>
<path d="M281.8 353.3V355.9" stroke="#202020" stroke-width="1.5" fill="none"/>
<path d="M339.05 353.3V355.9" stroke="#202020" stroke-width="1.5" fill="none"/>
<path d="M452.6 28H795.5" stroke="#686868" stroke-width="1.5" fill="none"/>
<path d="M795.5 27.3V355.3" stroke="#4A4A4A" stroke-width="1.3" fill="none"/>
<rect x="464.75" y="192.5" width="10.2" height="162.8" fill="#00AD4F" stroke="#000" stroke-width="1"/>
<path d="M468.14 194.02h1.25v1.25h-1.25zM471.7 194.02h1.25v1.25h-1.25zM466.36 195.8h1.25v1.25h-1.25zM469.92 195.8h1.25v1.25h-1.25zM468.14 197.58h1.25v1.25h-1.25zM471.7 197.58h1.25v1.25h-1.25zM466.36 199.36h1.25v1.25h-1.25zM469.92 199.36h1.25v1.25h-1.25zM468.14 201.14h1.25v1.25h-1.25zM471.7 201.14h1.25v1.25h-1.25zM466.36 202.92h1.25v1.25h-1.25zM469.92 202.92h1.25v1.25h-1.25zM468.14 204.7h1.25v1.25h-1.25zM471.7 204.7h1.25v1.25h-1.25zM466.36 206.48h1.25v1.25h-1.25zM469.92 206.48h1.25v1.25h-1.25zM468.14 208.26h1.25v1.25h-1.25zM471.7 208.26h1.25v1.25h-1.25zM466.36 210.04h1.25v1.25h-1.25zM469.92 210.04h1.25v1.25h-1.25zM468.14 211.82h1.25v1.25h-1.25zM471.7 211.82h1.25v1.25h-1.25zM466.36 213.6h1.25v1.25h-1.25zM469.92 213.6h1.25v1.25h-1.25zM468.14 215.38h1.25v1.25h-1.25zM471.7 215.38h1.25v1.25h-1.25zM466.36 217.16h1.25v1.25h-1.25zM469.92 217.16h1.25v1.25h-1.25zM468.14 218.94h1.25v1.25h-1.25zM471.7 218.94h1.25v1.25h-1.25zM466.36 220.72h1.25v1.25h-1.25zM469.92 220.72h1.25v1.25h-1.25zM468.14 222.5h1.25v1.25h-1.25zM471.7 222.5h1.25v1.25h-1.25zM466.36 224.28h1.25v1.25h-1.25zM469.92 224.28h1.25v1.25h-1.25zM468.14 226.06h1.25v1.25h-1.25zM471.7 226.06h1.25v1.25h-1.25zM466.36 227.84h1.25v1.25h-1.25zM469.92 227.84h1.25v1.25h-1.25zM468.14 229.62h1.25v1.25h-1.25zM471.7 229.62h1.25v1.25h-1.25zM466.36 231.4h1.25v1.25h-1.25zM469.92 231.4h1.25v1.25h-1.25zM468.14 233.18h1.25v1.25h-1.25zM471.7 233.18h1.25v1.25h-1.25zM466.36 234.96h1.25v1.25h-1.25zM469.92 234.96h1.25v1.25h-1.25zM468.14 236.74h1.25v1.25h-1.25zM471.7 236.74h1.25v1.25h-1.25zM466.36 238.52h1.25v1.25h-1.25zM469.92 238.52h1.25v1.25h-1.25zM468.14 240.3h1.25v1.25h-1.25zM471.7 240.3h1.25v1.25h-1.25zM466.36 242.08h1.25v1.25h-1.25zM469.92 242.08h1.25v1.25h-1.25zM468.14 243.86h1.25v1.25h-1.25zM471.7 243.86h1.25v1.25h-1.25zM466.36 245.64h1.25v1.25h-1.25zM469.92 245.64h1.25v1.25h-1.25zM468.14 247.42h1.25v1.25h-1.25zM471.7 247.42h1.25v1.25h-1.25zM466.36 249.2h1.25v1.25h-1.25zM469.92 249.2h1.25v1.25h-1.25zM468.14 250.98h1.25v1.25h-1.25zM471.7 250.98h1.25v1.25h-1.25zM466.36 252.76h1.25v1.25h-1.25zM469.92 252.76h1.25v1.25h-1.25zM468.14 254.54h1.25v1.25h-1.25zM471.7 254.54h1.25v1.25h-1.25zM466.36 256.32h1.25v1.25h-1.25zM469.92 256.32h1.25v1.25h-1.25zM468.14 258.1h1.25v1.25h-1.25zM471.7 258.1h1.25v1.25h-1.25zM466.36 259.88h1.25v1.25h-1.25zM469.92 259.88h1.25v1.25h-1.25zM468.14 261.66h1.25v1.25h-1.25zM471.7 261.66h1.25v1.25h-1.25zM466.36 263.44h1.25v1.25h-1.25zM469.92 263.44h1.25v1.25h-1.25zM468.14 265.22h1.25v1.25h-1.25zM471.7 265.22h1.25v1.25h-1.25zM466.36 267h1.25v1.25h-1.25zM469.92 267h1.25v1.25h-1.25zM468.14 268.78h1.25v1.25h-1.25zM471.7 268.78h1.25v1.25h-1.25zM466.36 270.56h1.25v1.25h-1.25zM469.92 270.56h1.25v1.25h-1.25zM468.14 272.34h1.25v1.25h-1.25zM471.7 272.34h1.25v1.25h-1.25zM466.36 274.12h1.25v1.25h-1.25zM469.92 274.12h1.25v1.25h-1.25zM468.14 275.9h1.25v1.25h-1.25zM471.7 275.9h1.25v1.25h-1.25zM466.36 277.68h1.25v1.25h-1.25zM469.92 277.68h1.25v1.25h-1.25zM468.14 279.46h1.25v1.25h-1.25zM471.7 279.46h1.25v1.25h-1.25zM466.36 281.24h1.25v1.25h-1.25zM469.92 281.24h1.25v1.25h-1.25zM468.14 283.02h1.25v1.25h-1.25zM471.7 283.02h1.25v1.25h-1.25zM466.36 284.8h1.25v1.25h-1.25zM469.92 284.8h1.25v1.25h-1.25zM468.14 286.58h1.25v1.25h-1.25zM471.7 286.58h1.25v1.25h-1.25zM466.36 288.36h1.25v1.25h-1.25zM469.92 288.36h1.25v1.25h-1.25zM468.14 290.14h1.25v1.25h-1.25zM471.7 290.14h1.25v1.25h-1.25zM466.36 291.92h1.25v1.25h-1.25zM469.92 291.92h1.25v1.25h-1.25zM468.14 293.7h1.25v1.25h-1.25zM471.7 293.7h1.25v1.25h-1.25zM466.36 295.48h1.25v1.25h-1.25zM469.92 295.48h1.25v1.25h-1.25zM468.14 297.26h1.25v1.25h-1.25zM471.7 297.26h1.25v1.25h-1.25zM466.36 299.04h1.25v1.25h-1.25zM469.92 299.04h1.25v1.25h-1.25zM468.14 300.82h1.25v1.25h-1.25zM471.7 300.82h1.25v1.25h-1.25zM466.36 302.6h1.25v1.25h-1.25zM469.92 302.6h1.25v1.25h-1.25zM468.14 304.38h1.25v1.25h-1.25zM471.7 304.38h1.25v1.25h-1.25zM466.36 306.16h1.25v1.25h-1.25zM469.92 306.16h1.25v1.25h-1.25zM468.14 307.94h1.25v1.25h-1.25zM471.7 307.94h1.25v1.25h-1.25zM466.36 309.72h1.25v1.25h-1.25zM469.92 309.72h1.25v1.25h-1.25zM468.14 311.5h1.25v1.25h-1.25zM471.7 311.5h1.25v1.25h-1.25zM466.36 313.28h1.25v1.25h-1.25zM469.92 313.28h1.25v1.25h-1.25zM468.14 315.06h1.25v1.25h-1.25zM471.7 315.06h1.25v1.25h-1.25zM466.36 316.84h1.25v1.25h-1.25zM469.92 316.84h1.25v1.25h-1.25zM468.14 318.62h1.25v1.25h-1.25zM471.7 318.62h1.25v1.25h-1.25zM466.36 320.4h1.25v1.25h-1.25zM469.92 320.4h1.25v1.25h-1.25zM468.14 322.18h1.25v1.25h-1.25zM471.7 322.18h1.25v1.25h-1.25zM466.36 323.96h1.25v1.25h-1.25zM469.92 323.96h1.25v1.25h-1.25zM468.14 325.74h1.25v1.25h-1.25zM471.7 325.74h1.25v1.25h-1.25zM466.36 327.52h1.25v1.25h-1.25zM469.92 327.52h1.25v1.25h-1.25zM468.14 329.3h1.25v1.25h-1.25zM471.7 329.3h1.25v1.25h-1.25zM466.36 331.08h1.25v1.25h-1.25zM469.92 331.08h1.25v1.25h-1.25zM468.14 332.86h1.25v1.25h-1.25zM471.7 332.86h1.25v1.25h-1.25zM466.36 334.64h1.25v1.25h-1.25zM469.92 334.64h1.25v1.25h-1.25zM468.14 336.42h1.25v1.25h-1.25zM471.7 336.42h1.25v1.25h-1.25zM466.36 338.2h1.25v1.25h-1.25zM469.92 338.2h1.25v1.25h-1.25zM468.14 339.98h1.25v1.25h-1.25zM471.7 339.98h1.25v1.25h-1.25zM466.36 341.76h1.25v1.25h-1.25zM469.92 341.76h1.25v1.25h-1.25zM468.14 343.54h1.25v1.25h-1.25zM471.7 343.54h1.25v1.25h-1.25zM466.36 345.32h1.25v1.25h-1.25zM469.92 345.32h1.25v1.25h-1.25zM468.14 347.1h1.25v1.25h-1.25zM471.7 347.1h1.25v1.25h-1.25zM466.36 348.88h1.25v1.25h-1.25zM469.92 348.88h1.25v1.25h-1.25zM468.14 350.66h1.25v1.25h-1.25zM471.7 350.66h1.25v1.25h-1.25zM466.36 352.44h1.25v1.25h-1.25zM469.92 352.44h1.25v1.25h-1.25z" fill="#B4F2CA"/>
<path d="M469.95 182.9V199.7M466.95 182.9H472.95M466.95 199.7H472.95" stroke="#222" stroke-width="1" fill="none"/>
<rect x="480.65" y="192.2" width="9.6" height="163.1" fill="url(#hatchB)" stroke="#000" stroke-width="1"/>
<path d="M485.55 190.4V193.7M482.55 190.4H488.55M482.55 193.7H488.55" stroke="#222" stroke-width="1" fill="none"/>
<rect x="495.95" y="192.7" width="10" height="162.6" fill="#C00000" stroke="#000" stroke-width="1"/>
<path d="M501.05 190.4V193.5M498.05 190.4H504.05M498.05 193.5H504.05" stroke="#222" stroke-width="1" fill="none"/>
<rect x="521.75" y="196.8" width="9.6" height="158.5" fill="#00AD4F" stroke="#000" stroke-width="1"/>
<path d="M525.1 197.58h1.25v1.25h-1.25zM528.66 197.58h1.25v1.25h-1.25zM523.32 199.36h1.25v1.25h-1.25zM526.88 199.36h1.25v1.25h-1.25zM525.1 201.14h1.25v1.25h-1.25zM528.66 201.14h1.25v1.25h-1.25zM523.32 202.92h1.25v1.25h-1.25zM526.88 202.92h1.25v1.25h-1.25zM525.1 204.7h1.25v1.25h-1.25zM528.66 204.7h1.25v1.25h-1.25zM523.32 206.48h1.25v1.25h-1.25zM526.88 206.48h1.25v1.25h-1.25zM525.1 208.26h1.25v1.25h-1.25zM528.66 208.26h1.25v1.25h-1.25zM523.32 210.04h1.25v1.25h-1.25zM526.88 210.04h1.25v1.25h-1.25zM525.1 211.82h1.25v1.25h-1.25zM528.66 211.82h1.25v1.25h-1.25zM523.32 213.6h1.25v1.25h-1.25zM526.88 213.6h1.25v1.25h-1.25zM525.1 215.38h1.25v1.25h-1.25zM528.66 215.38h1.25v1.25h-1.25zM523.32 217.16h1.25v1.25h-1.25zM526.88 217.16h1.25v1.25h-1.25zM525.1 218.94h1.25v1.25h-1.25zM528.66 218.94h1.25v1.25h-1.25zM523.32 220.72h1.25v1.25h-1.25zM526.88 220.72h1.25v1.25h-1.25zM525.1 222.5h1.25v1.25h-1.25zM528.66 222.5h1.25v1.25h-1.25zM523.32 224.28h1.25v1.25h-1.25zM526.88 224.28h1.25v1.25h-1.25zM525.1 226.06h1.25v1.25h-1.25zM528.66 226.06h1.25v1.25h-1.25zM523.32 227.84h1.25v1.25h-1.25zM526.88 227.84h1.25v1.25h-1.25zM525.1 229.62h1.25v1.25h-1.25zM528.66 229.62h1.25v1.25h-1.25zM523.32 231.4h1.25v1.25h-1.25zM526.88 231.4h1.25v1.25h-1.25zM525.1 233.18h1.25v1.25h-1.25zM528.66 233.18h1.25v1.25h-1.25zM523.32 234.96h1.25v1.25h-1.25zM526.88 234.96h1.25v1.25h-1.25zM525.1 236.74h1.25v1.25h-1.25zM528.66 236.74h1.25v1.25h-1.25zM523.32 238.52h1.25v1.25h-1.25zM526.88 238.52h1.25v1.25h-1.25zM525.1 240.3h1.25v1.25h-1.25zM528.66 240.3h1.25v1.25h-1.25zM523.32 242.08h1.25v1.25h-1.25zM526.88 242.08h1.25v1.25h-1.25zM525.1 243.86h1.25v1.25h-1.25zM528.66 243.86h1.25v1.25h-1.25zM523.32 245.64h1.25v1.25h-1.25zM526.88 245.64h1.25v1.25h-1.25zM525.1 247.42h1.25v1.25h-1.25zM528.66 247.42h1.25v1.25h-1.25zM523.32 249.2h1.25v1.25h-1.25zM526.88 249.2h1.25v1.25h-1.25zM525.1 250.98h1.25v1.25h-1.25zM528.66 250.98h1.25v1.25h-1.25zM523.32 252.76h1.25v1.25h-1.25zM526.88 252.76h1.25v1.25h-1.25zM525.1 254.54h1.25v1.25h-1.25zM528.66 254.54h1.25v1.25h-1.25zM523.32 256.32h1.25v1.25h-1.25zM526.88 256.32h1.25v1.25h-1.25zM525.1 258.1h1.25v1.25h-1.25zM528.66 258.1h1.25v1.25h-1.25zM523.32 259.88h1.25v1.25h-1.25zM526.88 259.88h1.25v1.25h-1.25zM525.1 261.66h1.25v1.25h-1.25zM528.66 261.66h1.25v1.25h-1.25zM523.32 263.44h1.25v1.25h-1.25zM526.88 263.44h1.25v1.25h-1.25zM525.1 265.22h1.25v1.25h-1.25zM528.66 265.22h1.25v1.25h-1.25zM523.32 267h1.25v1.25h-1.25zM526.88 267h1.25v1.25h-1.25zM525.1 268.78h1.25v1.25h-1.25zM528.66 268.78h1.25v1.25h-1.25zM523.32 270.56h1.25v1.25h-1.25zM526.88 270.56h1.25v1.25h-1.25zM525.1 272.34h1.25v1.25h-1.25zM528.66 272.34h1.25v1.25h-1.25zM523.32 274.12h1.25v1.25h-1.25zM526.88 274.12h1.25v1.25h-1.25zM525.1 275.9h1.25v1.25h-1.25zM528.66 275.9h1.25v1.25h-1.25zM523.32 277.68h1.25v1.25h-1.25zM526.88 277.68h1.25v1.25h-1.25zM525.1 279.46h1.25v1.25h-1.25zM528.66 279.46h1.25v1.25h-1.25zM523.32 281.24h1.25v1.25h-1.25zM526.88 281.24h1.25v1.25h-1.25zM525.1 283.02h1.25v1.25h-1.25zM528.66 283.02h1.25v1.25h-1.25zM523.32 284.8h1.25v1.25h-1.25zM526.88 284.8h1.25v1.25h-1.25zM525.1 286.58h1.25v1.25h-1.25zM528.66 286.58h1.25v1.25h-1.25zM523.32 288.36h1.25v1.25h-1.25zM526.88 288.36h1.25v1.25h-1.25zM525.1 290.14h1.25v1.25h-1.25zM528.66 290.14h1.25v1.25h-1.25zM523.32 291.92h1.25v1.25h-1.25zM526.88 291.92h1.25v1.25h-1.25zM525.1 293.7h1.25v1.25h-1.25zM528.66 293.7h1.25v1.25h-1.25zM523.32 295.48h1.25v1.25h-1.25zM526.88 295.48h1.25v1.25h-1.25zM525.1 297.26h1.25v1.25h-1.25zM528.66 297.26h1.25v1.25h-1.25zM523.32 299.04h1.25v1.25h-1.25zM526.88 299.04h1.25v1.25h-1.25zM525.1 300.82h1.25v1.25h-1.25zM528.66 300.82h1.25v1.25h-1.25zM523.32 302.6h1.25v1.25h-1.25zM526.88 302.6h1.25v1.25h-1.25zM525.1 304.38h1.25v1.25h-1.25zM528.66 304.38h1.25v1.25h-1.25zM523.32 306.16h1.25v1.25h-1.25zM526.88 306.16h1.25v1.25h-1.25zM525.1 307.94h1.25v1.25h-1.25zM528.66 307.94h1.25v1.25h-1.25zM523.32 309.72h1.25v1.25h-1.25zM526.88 309.72h1.25v1.25h-1.25zM525.1 311.5h1.25v1.25h-1.25zM528.66 311.5h1.25v1.25h-1.25zM523.32 313.28h1.25v1.25h-1.25zM526.88 313.28h1.25v1.25h-1.25zM525.1 315.06h1.25v1.25h-1.25zM528.66 315.06h1.25v1.25h-1.25zM523.32 316.84h1.25v1.25h-1.25zM526.88 316.84h1.25v1.25h-1.25zM525.1 318.62h1.25v1.25h-1.25zM528.66 318.62h1.25v1.25h-1.25zM523.32 320.4h1.25v1.25h-1.25zM526.88 320.4h1.25v1.25h-1.25zM525.1 322.18h1.25v1.25h-1.25zM528.66 322.18h1.25v1.25h-1.25zM523.32 323.96h1.25v1.25h-1.25zM526.88 323.96h1.25v1.25h-1.25zM525.1 325.74h1.25v1.25h-1.25zM528.66 325.74h1.25v1.25h-1.25zM523.32 327.52h1.25v1.25h-1.25zM526.88 327.52h1.25v1.25h-1.25zM525.1 329.3h1.25v1.25h-1.25zM528.66 329.3h1.25v1.25h-1.25zM523.32 331.08h1.25v1.25h-1.25zM526.88 331.08h1.25v1.25h-1.25zM525.1 332.86h1.25v1.25h-1.25zM528.66 332.86h1.25v1.25h-1.25zM523.32 334.64h1.25v1.25h-1.25zM526.88 334.64h1.25v1.25h-1.25zM525.1 336.42h1.25v1.25h-1.25zM528.66 336.42h1.25v1.25h-1.25zM523.32 338.2h1.25v1.25h-1.25zM526.88 338.2h1.25v1.25h-1.25zM525.1 339.98h1.25v1.25h-1.25zM528.66 339.98h1.25v1.25h-1.25zM523.32 341.76h1.25v1.25h-1.25zM526.88 341.76h1.25v1.25h-1.25zM525.1 343.54h1.25v1.25h-1.25zM528.66 343.54h1.25v1.25h-1.25zM523.32 345.32h1.25v1.25h-1.25zM526.88 345.32h1.25v1.25h-1.25zM525.1 347.1h1.25v1.25h-1.25zM528.66 347.1h1.25v1.25h-1.25zM523.32 348.88h1.25v1.25h-1.25zM526.88 348.88h1.25v1.25h-1.25zM525.1 350.66h1.25v1.25h-1.25zM528.66 350.66h1.25v1.25h-1.25zM523.32 352.44h1.25v1.25h-1.25zM526.88 352.44h1.25v1.25h-1.25z" fill="#B4F2CA"/>
<path d="M526.65 183V208.5M523.65 183H529.65M523.65 208.5H529.65" stroke="#222" stroke-width="1" fill="none"/>
<rect x="536.75" y="177.8" width="10.2" height="177.5" fill="url(#hatchB)" stroke="#000" stroke-width="1"/>
<rect x="538.95" y="177.3" width="6" height="1.9" rx="0.8" fill="#0a0a0a"/>
<rect x="552.95" y="200.4" width="9.3" height="154.9" fill="#C00000" stroke="#000" stroke-width="1"/>
<rect x="554.7" y="199.9" width="6" height="1.9" rx="0.8" fill="#0a0a0a"/>
<rect x="577.75" y="188.8" width="9.9" height="166.5" fill="#00AD4F" stroke="#000" stroke-width="1"/>
<path d="M578.5 190.46h1.25v1.25h-1.25zM582.06 190.46h1.25v1.25h-1.25zM585.62 190.46h1.25v1.25h-1.25zM580.28 192.24h1.25v1.25h-1.25zM583.84 192.24h1.25v1.25h-1.25zM578.5 194.02h1.25v1.25h-1.25zM582.06 194.02h1.25v1.25h-1.25zM585.62 194.02h1.25v1.25h-1.25zM580.28 195.8h1.25v1.25h-1.25zM583.84 195.8h1.25v1.25h-1.25zM578.5 197.58h1.25v1.25h-1.25zM582.06 197.58h1.25v1.25h-1.25zM585.62 197.58h1.25v1.25h-1.25zM580.28 199.36h1.25v1.25h-1.25zM583.84 199.36h1.25v1.25h-1.25zM578.5 201.14h1.25v1.25h-1.25zM582.06 201.14h1.25v1.25h-1.25zM585.62 201.14h1.25v1.25h-1.25zM580.28 202.92h1.25v1.25h-1.25zM583.84 202.92h1.25v1.25h-1.25zM578.5 204.7h1.25v1.25h-1.25zM582.06 204.7h1.25v1.25h-1.25zM585.62 204.7h1.25v1.25h-1.25zM580.28 206.48h1.25v1.25h-1.25zM583.84 206.48h1.25v1.25h-1.25zM578.5 208.26h1.25v1.25h-1.25zM582.06 208.26h1.25v1.25h-1.25zM585.62 208.26h1.25v1.25h-1.25zM580.28 210.04h1.25v1.25h-1.25zM583.84 210.04h1.25v1.25h-1.25zM578.5 211.82h1.25v1.25h-1.25zM582.06 211.82h1.25v1.25h-1.25zM585.62 211.82h1.25v1.25h-1.25zM580.28 213.6h1.25v1.25h-1.25zM583.84 213.6h1.25v1.25h-1.25zM578.5 215.38h1.25v1.25h-1.25zM582.06 215.38h1.25v1.25h-1.25zM585.62 215.38h1.25v1.25h-1.25zM580.28 217.16h1.25v1.25h-1.25zM583.84 217.16h1.25v1.25h-1.25zM578.5 218.94h1.25v1.25h-1.25zM582.06 218.94h1.25v1.25h-1.25zM585.62 218.94h1.25v1.25h-1.25zM580.28 220.72h1.25v1.25h-1.25zM583.84 220.72h1.25v1.25h-1.25zM578.5 222.5h1.25v1.25h-1.25zM582.06 222.5h1.25v1.25h-1.25zM585.62 222.5h1.25v1.25h-1.25zM580.28 224.28h1.25v1.25h-1.25zM583.84 224.28h1.25v1.25h-1.25zM578.5 226.06h1.25v1.25h-1.25zM582.06 226.06h1.25v1.25h-1.25zM585.62 226.06h1.25v1.25h-1.25zM580.28 227.84h1.25v1.25h-1.25zM583.84 227.84h1.25v1.25h-1.25zM578.5 229.62h1.25v1.25h-1.25zM582.06 229.62h1.25v1.25h-1.25zM585.62 229.62h1.25v1.25h-1.25zM580.28 231.4h1.25v1.25h-1.25zM583.84 231.4h1.25v1.25h-1.25zM578.5 233.18h1.25v1.25h-1.25zM582.06 233.18h1.25v1.25h-1.25zM585.62 233.18h1.25v1.25h-1.25zM580.28 234.96h1.25v1.25h-1.25zM583.84 234.96h1.25v1.25h-1.25zM578.5 236.74h1.25v1.25h-1.25zM582.06 236.74h1.25v1.25h-1.25zM585.62 236.74h1.25v1.25h-1.25zM580.28 238.52h1.25v1.25h-1.25zM583.84 238.52h1.25v1.25h-1.25zM578.5 240.3h1.25v1.25h-1.25zM582.06 240.3h1.25v1.25h-1.25zM585.62 240.3h1.25v1.25h-1.25zM580.28 242.08h1.25v1.25h-1.25zM583.84 242.08h1.25v1.25h-1.25zM578.5 243.86h1.25v1.25h-1.25zM582.06 243.86h1.25v1.25h-1.25zM585.62 243.86h1.25v1.25h-1.25zM580.28 245.64h1.25v1.25h-1.25zM583.84 245.64h1.25v1.25h-1.25zM578.5 247.42h1.25v1.25h-1.25zM582.06 247.42h1.25v1.25h-1.25zM585.62 247.42h1.25v1.25h-1.25zM580.28 249.2h1.25v1.25h-1.25zM583.84 249.2h1.25v1.25h-1.25zM578.5 250.98h1.25v1.25h-1.25zM582.06 250.98h1.25v1.25h-1.25zM585.62 250.98h1.25v1.25h-1.25zM580.28 252.76h1.25v1.25h-1.25zM583.84 252.76h1.25v1.25h-1.25zM578.5 254.54h1.25v1.25h-1.25zM582.06 254.54h1.25v1.25h-1.25zM585.62 254.54h1.25v1.25h-1.25zM580.28 256.32h1.25v1.25h-1.25zM583.84 256.32h1.25v1.25h-1.25zM578.5 258.1h1.25v1.25h-1.25zM582.06 258.1h1.25v1.25h-1.25zM585.62 258.1h1.25v1.25h-1.25zM580.28 259.88h1.25v1.25h-1.25zM583.84 259.88h1.25v1.25h-1.25zM578.5 261.66h1.25v1.25h-1.25zM582.06 261.66h1.25v1.25h-1.25zM585.62 261.66h1.25v1.25h-1.25zM580.28 263.44h1.25v1.25h-1.25zM583.84 263.44h1.25v1.25h-1.25zM578.5 265.22h1.25v1.25h-1.25zM582.06 265.22h1.25v1.25h-1.25zM585.62 265.22h1.25v1.25h-1.25zM580.28 267h1.25v1.25h-1.25zM583.84 267h1.25v1.25h-1.25zM578.5 268.78h1.25v1.25h-1.25zM582.06 268.78h1.25v1.25h-1.25zM585.62 268.78h1.25v1.25h-1.25zM580.28 270.56h1.25v1.25h-1.25zM583.84 270.56h1.25v1.25h-1.25zM578.5 272.34h1.25v1.25h-1.25zM582.06 272.34h1.25v1.25h-1.25zM585.62 272.34h1.25v1.25h-1.25zM580.28 274.12h1.25v1.25h-1.25zM583.84 274.12h1.25v1.25h-1.25zM578.5 275.9h1.25v1.25h-1.25zM582.06 275.9h1.25v1.25h-1.25zM585.62 275.9h1.25v1.25h-1.25zM580.28 277.68h1.25v1.25h-1.25zM583.84 277.68h1.25v1.25h-1.25zM578.5 279.46h1.25v1.25h-1.25zM582.06 279.46h1.25v1.25h-1.25zM585.62 279.46h1.25v1.25h-1.25zM580.28 281.24h1.25v1.25h-1.25zM583.84 281.24h1.25v1.25h-1.25zM578.5 283.02h1.25v1.25h-1.25zM582.06 283.02h1.25v1.25h-1.25zM585.62 283.02h1.25v1.25h-1.25zM580.28 284.8h1.25v1.25h-1.25zM583.84 284.8h1.25v1.25h-1.25zM578.5 286.58h1.25v1.25h-1.25zM582.06 286.58h1.25v1.25h-1.25zM585.62 286.58h1.25v1.25h-1.25zM580.28 288.36h1.25v1.25h-1.25zM583.84 288.36h1.25v1.25h-1.25zM578.5 290.14h1.25v1.25h-1.25zM582.06 290.14h1.25v1.25h-1.25zM585.62 290.14h1.25v1.25h-1.25zM580.28 291.92h1.25v1.25h-1.25zM583.84 291.92h1.25v1.25h-1.25zM578.5 293.7h1.25v1.25h-1.25zM582.06 293.7h1.25v1.25h-1.25zM585.62 293.7h1.25v1.25h-1.25zM580.28 295.48h1.25v1.25h-1.25zM583.84 295.48h1.25v1.25h-1.25zM578.5 297.26h1.25v1.25h-1.25zM582.06 297.26h1.25v1.25h-1.25zM585.62 297.26h1.25v1.25h-1.25zM580.28 299.04h1.25v1.25h-1.25zM583.84 299.04h1.25v1.25h-1.25zM578.5 300.82h1.25v1.25h-1.25zM582.06 300.82h1.25v1.25h-1.25zM585.62 300.82h1.25v1.25h-1.25zM580.28 302.6h1.25v1.25h-1.25zM583.84 302.6h1.25v1.25h-1.25zM578.5 304.38h1.25v1.25h-1.25zM582.06 304.38h1.25v1.25h-1.25zM585.62 304.38h1.25v1.25h-1.25zM580.28 306.16h1.25v1.25h-1.25zM583.84 306.16h1.25v1.25h-1.25zM578.5 307.94h1.25v1.25h-1.25zM582.06 307.94h1.25v1.25h-1.25zM585.62 307.94h1.25v1.25h-1.25zM580.28 309.72h1.25v1.25h-1.25zM583.84 309.72h1.25v1.25h-1.25zM578.5 311.5h1.25v1.25h-1.25zM582.06 311.5h1.25v1.25h-1.25zM585.62 311.5h1.25v1.25h-1.25zM580.28 313.28h1.25v1.25h-1.25zM583.84 313.28h1.25v1.25h-1.25zM578.5 315.06h1.25v1.25h-1.25zM582.06 315.06h1.25v1.25h-1.25zM585.62 315.06h1.25v1.25h-1.25zM580.28 316.84h1.25v1.25h-1.25zM583.84 316.84h1.25v1.25h-1.25zM578.5 318.62h1.25v1.25h-1.25zM582.06 318.62h1.25v1.25h-1.25zM585.62 318.62h1.25v1.25h-1.25zM580.28 320.4h1.25v1.25h-1.25zM583.84 320.4h1.25v1.25h-1.25zM578.5 322.18h1.25v1.25h-1.25zM582.06 322.18h1.25v1.25h-1.25zM585.62 322.18h1.25v1.25h-1.25zM580.28 323.96h1.25v1.25h-1.25zM583.84 323.96h1.25v1.25h-1.25zM578.5 325.74h1.25v1.25h-1.25zM582.06 325.74h1.25v1.25h-1.25zM585.62 325.74h1.25v1.25h-1.25zM580.28 327.52h1.25v1.25h-1.25zM583.84 327.52h1.25v1.25h-1.25zM578.5 329.3h1.25v1.25h-1.25zM582.06 329.3h1.25v1.25h-1.25zM585.62 329.3h1.25v1.25h-1.25zM580.28 331.08h1.25v1.25h-1.25zM583.84 331.08h1.25v1.25h-1.25zM578.5 332.86h1.25v1.25h-1.25zM582.06 332.86h1.25v1.25h-1.25zM585.62 332.86h1.25v1.25h-1.25zM580.28 334.64h1.25v1.25h-1.25zM583.84 334.64h1.25v1.25h-1.25zM578.5 336.42h1.25v1.25h-1.25zM582.06 336.42h1.25v1.25h-1.25zM585.62 336.42h1.25v1.25h-1.25zM580.28 338.2h1.25v1.25h-1.25zM583.84 338.2h1.25v1.25h-1.25zM578.5 339.98h1.25v1.25h-1.25zM582.06 339.98h1.25v1.25h-1.25zM585.62 339.98h1.25v1.25h-1.25zM580.28 341.76h1.25v1.25h-1.25zM583.84 341.76h1.25v1.25h-1.25zM578.5 343.54h1.25v1.25h-1.25zM582.06 343.54h1.25v1.25h-1.25zM585.62 343.54h1.25v1.25h-1.25zM580.28 345.32h1.25v1.25h-1.25zM583.84 345.32h1.25v1.25h-1.25zM578.5 347.1h1.25v1.25h-1.25zM582.06 347.1h1.25v1.25h-1.25zM585.62 347.1h1.25v1.25h-1.25zM580.28 348.88h1.25v1.25h-1.25zM583.84 348.88h1.25v1.25h-1.25zM578.5 350.66h1.25v1.25h-1.25zM582.06 350.66h1.25v1.25h-1.25zM585.62 350.66h1.25v1.25h-1.25zM580.28 352.44h1.25v1.25h-1.25zM583.84 352.44h1.25v1.25h-1.25z" fill="#B4F2CA"/>
<path d="M582.8 180.4V195.4M579.8 180.4H585.8M579.8 195.4H585.8" stroke="#222" stroke-width="1" fill="none"/>
<rect x="593.65" y="191.2" width="9.6" height="164.1" fill="url(#hatchB)" stroke="#000" stroke-width="1"/>
<path d="M598.55 188.5V193.9M595.55 188.5H601.55M595.55 193.9H601.55" stroke="#222" stroke-width="1" fill="none"/>
<rect x="608.65" y="251.7" width="9.95" height="103.6" fill="#C00000" stroke="#000" stroke-width="1"/>
<path d="M613.73 248.6V253.8M610.73 248.6H616.73M610.73 253.8H616.73" stroke="#222" stroke-width="1" fill="none"/>
<rect x="633.15" y="353.8" width="11.2" height="1.5" rx="0.8" fill="#111"/>
<rect x="664.75" y="343" width="10.5" height="12.3" fill="#C00000" stroke="#000" stroke-width="1"/>
<rect x="667.1" y="342.5" width="6" height="1.9" rx="0.8" fill="#0a0a0a"/>
<rect x="690.75" y="175.8" width="9.6" height="179.5" fill="#00AD4F" stroke="#000" stroke-width="1"/>
<path d="M694.2 178h1.25v1.25h-1.25zM697.76 178h1.25v1.25h-1.25zM692.42 179.78h1.25v1.25h-1.25zM695.98 179.78h1.25v1.25h-1.25zM694.2 181.56h1.25v1.25h-1.25zM697.76 181.56h1.25v1.25h-1.25zM692.42 183.34h1.25v1.25h-1.25zM695.98 183.34h1.25v1.25h-1.25zM694.2 185.12h1.25v1.25h-1.25zM697.76 185.12h1.25v1.25h-1.25zM692.42 186.9h1.25v1.25h-1.25zM695.98 186.9h1.25v1.25h-1.25zM694.2 188.68h1.25v1.25h-1.25zM697.76 188.68h1.25v1.25h-1.25zM692.42 190.46h1.25v1.25h-1.25zM695.98 190.46h1.25v1.25h-1.25zM694.2 192.24h1.25v1.25h-1.25zM697.76 192.24h1.25v1.25h-1.25zM692.42 194.02h1.25v1.25h-1.25zM695.98 194.02h1.25v1.25h-1.25zM694.2 195.8h1.25v1.25h-1.25zM697.76 195.8h1.25v1.25h-1.25zM692.42 197.58h1.25v1.25h-1.25zM695.98 197.58h1.25v1.25h-1.25zM694.2 199.36h1.25v1.25h-1.25zM697.76 199.36h1.25v1.25h-1.25zM692.42 201.14h1.25v1.25h-1.25zM695.98 201.14h1.25v1.25h-1.25zM694.2 202.92h1.25v1.25h-1.25zM697.76 202.92h1.25v1.25h-1.25zM692.42 204.7h1.25v1.25h-1.25zM695.98 204.7h1.25v1.25h-1.25zM694.2 206.48h1.25v1.25h-1.25zM697.76 206.48h1.25v1.25h-1.25zM692.42 208.26h1.25v1.25h-1.25zM695.98 208.26h1.25v1.25h-1.25zM694.2 210.04h1.25v1.25h-1.25zM697.76 210.04h1.25v1.25h-1.25zM692.42 211.82h1.25v1.25h-1.25zM695.98 211.82h1.25v1.25h-1.25zM694.2 213.6h1.25v1.25h-1.25zM697.76 213.6h1.25v1.25h-1.25zM692.42 215.38h1.25v1.25h-1.25zM695.98 215.38h1.25v1.25h-1.25zM694.2 217.16h1.25v1.25h-1.25zM697.76 217.16h1.25v1.25h-1.25zM692.42 218.94h1.25v1.25h-1.25zM695.98 218.94h1.25v1.25h-1.25zM694.2 220.72h1.25v1.25h-1.25zM697.76 220.72h1.25v1.25h-1.25zM692.42 222.5h1.25v1.25h-1.25zM695.98 222.5h1.25v1.25h-1.25zM694.2 224.28h1.25v1.25h-1.25zM697.76 224.28h1.25v1.25h-1.25zM692.42 226.06h1.25v1.25h-1.25zM695.98 226.06h1.25v1.25h-1.25zM694.2 227.84h1.25v1.25h-1.25zM697.76 227.84h1.25v1.25h-1.25zM692.42 229.62h1.25v1.25h-1.25zM695.98 229.62h1.25v1.25h-1.25zM694.2 231.4h1.25v1.25h-1.25zM697.76 231.4h1.25v1.25h-1.25zM692.42 233.18h1.25v1.25h-1.25zM695.98 233.18h1.25v1.25h-1.25zM694.2 234.96h1.25v1.25h-1.25zM697.76 234.96h1.25v1.25h-1.25zM692.42 236.74h1.25v1.25h-1.25zM695.98 236.74h1.25v1.25h-1.25zM694.2 238.52h1.25v1.25h-1.25zM697.76 238.52h1.25v1.25h-1.25zM692.42 240.3h1.25v1.25h-1.25zM695.98 240.3h1.25v1.25h-1.25zM694.2 242.08h1.25v1.25h-1.25zM697.76 242.08h1.25v1.25h-1.25zM692.42 243.86h1.25v1.25h-1.25zM695.98 243.86h1.25v1.25h-1.25zM694.2 245.64h1.25v1.25h-1.25zM697.76 245.64h1.25v1.25h-1.25zM692.42 247.42h1.25v1.25h-1.25zM695.98 247.42h1.25v1.25h-1.25zM694.2 249.2h1.25v1.25h-1.25zM697.76 249.2h1.25v1.25h-1.25zM692.42 250.98h1.25v1.25h-1.25zM695.98 250.98h1.25v1.25h-1.25zM694.2 252.76h1.25v1.25h-1.25zM697.76 252.76h1.25v1.25h-1.25zM692.42 254.54h1.25v1.25h-1.25zM695.98 254.54h1.25v1.25h-1.25zM694.2 256.32h1.25v1.25h-1.25zM697.76 256.32h1.25v1.25h-1.25zM692.42 258.1h1.25v1.25h-1.25zM695.98 258.1h1.25v1.25h-1.25zM694.2 259.88h1.25v1.25h-1.25zM697.76 259.88h1.25v1.25h-1.25zM692.42 261.66h1.25v1.25h-1.25zM695.98 261.66h1.25v1.25h-1.25zM694.2 263.44h1.25v1.25h-1.25zM697.76 263.44h1.25v1.25h-1.25zM692.42 265.22h1.25v1.25h-1.25zM695.98 265.22h1.25v1.25h-1.25zM694.2 267h1.25v1.25h-1.25zM697.76 267h1.25v1.25h-1.25zM692.42 268.78h1.25v1.25h-1.25zM695.98 268.78h1.25v1.25h-1.25zM694.2 270.56h1.25v1.25h-1.25zM697.76 270.56h1.25v1.25h-1.25zM692.42 272.34h1.25v1.25h-1.25zM695.98 272.34h1.25v1.25h-1.25zM694.2 274.12h1.25v1.25h-1.25zM697.76 274.12h1.25v1.25h-1.25zM692.42 275.9h1.25v1.25h-1.25zM695.98 275.9h1.25v1.25h-1.25zM694.2 277.68h1.25v1.25h-1.25zM697.76 277.68h1.25v1.25h-1.25zM692.42 279.46h1.25v1.25h-1.25zM695.98 279.46h1.25v1.25h-1.25zM694.2 281.24h1.25v1.25h-1.25zM697.76 281.24h1.25v1.25h-1.25zM692.42 283.02h1.25v1.25h-1.25zM695.98 283.02h1.25v1.25h-1.25zM694.2 284.8h1.25v1.25h-1.25zM697.76 284.8h1.25v1.25h-1.25zM692.42 286.58h1.25v1.25h-1.25zM695.98 286.58h1.25v1.25h-1.25zM694.2 288.36h1.25v1.25h-1.25zM697.76 288.36h1.25v1.25h-1.25zM692.42 290.14h1.25v1.25h-1.25zM695.98 290.14h1.25v1.25h-1.25zM694.2 291.92h1.25v1.25h-1.25zM697.76 291.92h1.25v1.25h-1.25zM692.42 293.7h1.25v1.25h-1.25zM695.98 293.7h1.25v1.25h-1.25zM694.2 295.48h1.25v1.25h-1.25zM697.76 295.48h1.25v1.25h-1.25zM692.42 297.26h1.25v1.25h-1.25zM695.98 297.26h1.25v1.25h-1.25zM694.2 299.04h1.25v1.25h-1.25zM697.76 299.04h1.25v1.25h-1.25zM692.42 300.82h1.25v1.25h-1.25zM695.98 300.82h1.25v1.25h-1.25zM694.2 302.6h1.25v1.25h-1.25zM697.76 302.6h1.25v1.25h-1.25zM692.42 304.38h1.25v1.25h-1.25zM695.98 304.38h1.25v1.25h-1.25zM694.2 306.16h1.25v1.25h-1.25zM697.76 306.16h1.25v1.25h-1.25zM692.42 307.94h1.25v1.25h-1.25zM695.98 307.94h1.25v1.25h-1.25zM694.2 309.72h1.25v1.25h-1.25zM697.76 309.72h1.25v1.25h-1.25zM692.42 311.5h1.25v1.25h-1.25zM695.98 311.5h1.25v1.25h-1.25zM694.2 313.28h1.25v1.25h-1.25zM697.76 313.28h1.25v1.25h-1.25zM692.42 315.06h1.25v1.25h-1.25zM695.98 315.06h1.25v1.25h-1.25zM694.2 316.84h1.25v1.25h-1.25zM697.76 316.84h1.25v1.25h-1.25zM692.42 318.62h1.25v1.25h-1.25zM695.98 318.62h1.25v1.25h-1.25zM694.2 320.4h1.25v1.25h-1.25zM697.76 320.4h1.25v1.25h-1.25zM692.42 322.18h1.25v1.25h-1.25zM695.98 322.18h1.25v1.25h-1.25zM694.2 323.96h1.25v1.25h-1.25zM697.76 323.96h1.25v1.25h-1.25zM692.42 325.74h1.25v1.25h-1.25zM695.98 325.74h1.25v1.25h-1.25zM694.2 327.52h1.25v1.25h-1.25zM697.76 327.52h1.25v1.25h-1.25zM692.42 329.3h1.25v1.25h-1.25zM695.98 329.3h1.25v1.25h-1.25zM694.2 331.08h1.25v1.25h-1.25zM697.76 331.08h1.25v1.25h-1.25zM692.42 332.86h1.25v1.25h-1.25zM695.98 332.86h1.25v1.25h-1.25zM694.2 334.64h1.25v1.25h-1.25zM697.76 334.64h1.25v1.25h-1.25zM692.42 336.42h1.25v1.25h-1.25zM695.98 336.42h1.25v1.25h-1.25zM694.2 338.2h1.25v1.25h-1.25zM697.76 338.2h1.25v1.25h-1.25zM692.42 339.98h1.25v1.25h-1.25zM695.98 339.98h1.25v1.25h-1.25zM694.2 341.76h1.25v1.25h-1.25zM697.76 341.76h1.25v1.25h-1.25zM692.42 343.54h1.25v1.25h-1.25zM695.98 343.54h1.25v1.25h-1.25zM694.2 345.32h1.25v1.25h-1.25zM697.76 345.32h1.25v1.25h-1.25zM692.42 347.1h1.25v1.25h-1.25zM695.98 347.1h1.25v1.25h-1.25zM694.2 348.88h1.25v1.25h-1.25zM697.76 348.88h1.25v1.25h-1.25zM692.42 350.66h1.25v1.25h-1.25zM695.98 350.66h1.25v1.25h-1.25zM694.2 352.44h1.25v1.25h-1.25zM697.76 352.44h1.25v1.25h-1.25z" fill="#B4F2CA"/>
<path d="M695.65 166.5V183.1M692.65 166.5H698.65M692.65 183.1H698.65" stroke="#222" stroke-width="1" fill="none"/>
<rect x="705.75" y="160.4" width="10.2" height="194.9" fill="url(#hatchB)" stroke="#000" stroke-width="1"/>
<rect x="707.95" y="159.9" width="6" height="1.9" rx="0.8" fill="#0a0a0a"/>
<rect x="721.75" y="207.7" width="10.2" height="147.6" fill="#C00000" stroke="#000" stroke-width="1"/>
<path d="M726.95 200.1V214.2M723.95 200.1H729.95M723.95 214.2H729.95" stroke="#222" stroke-width="1" fill="none"/>
<rect x="746.55" y="179.8" width="10.3" height="175.5" fill="#00AD4F" stroke="#000" stroke-width="1"/>
<path d="M747.6 181.56h1.25v1.25h-1.25zM751.16 181.56h1.25v1.25h-1.25zM754.72 181.56h1.25v1.25h-1.25zM749.38 183.34h1.25v1.25h-1.25zM752.94 183.34h1.25v1.25h-1.25zM747.6 185.12h1.25v1.25h-1.25zM751.16 185.12h1.25v1.25h-1.25zM754.72 185.12h1.25v1.25h-1.25zM749.38 186.9h1.25v1.25h-1.25zM752.94 186.9h1.25v1.25h-1.25zM747.6 188.68h1.25v1.25h-1.25zM751.16 188.68h1.25v1.25h-1.25zM754.72 188.68h1.25v1.25h-1.25zM749.38 190.46h1.25v1.25h-1.25zM752.94 190.46h1.25v1.25h-1.25zM747.6 192.24h1.25v1.25h-1.25zM751.16 192.24h1.25v1.25h-1.25zM754.72 192.24h1.25v1.25h-1.25zM749.38 194.02h1.25v1.25h-1.25zM752.94 194.02h1.25v1.25h-1.25zM747.6 195.8h1.25v1.25h-1.25zM751.16 195.8h1.25v1.25h-1.25zM754.72 195.8h1.25v1.25h-1.25zM749.38 197.58h1.25v1.25h-1.25zM752.94 197.58h1.25v1.25h-1.25zM747.6 199.36h1.25v1.25h-1.25zM751.16 199.36h1.25v1.25h-1.25zM754.72 199.36h1.25v1.25h-1.25zM749.38 201.14h1.25v1.25h-1.25zM752.94 201.14h1.25v1.25h-1.25zM747.6 202.92h1.25v1.25h-1.25zM751.16 202.92h1.25v1.25h-1.25zM754.72 202.92h1.25v1.25h-1.25zM749.38 204.7h1.25v1.25h-1.25zM752.94 204.7h1.25v1.25h-1.25zM747.6 206.48h1.25v1.25h-1.25zM751.16 206.48h1.25v1.25h-1.25zM754.72 206.48h1.25v1.25h-1.25zM749.38 208.26h1.25v1.25h-1.25zM752.94 208.26h1.25v1.25h-1.25zM747.6 210.04h1.25v1.25h-1.25zM751.16 210.04h1.25v1.25h-1.25zM754.72 210.04h1.25v1.25h-1.25zM749.38 211.82h1.25v1.25h-1.25zM752.94 211.82h1.25v1.25h-1.25zM747.6 213.6h1.25v1.25h-1.25zM751.16 213.6h1.25v1.25h-1.25zM754.72 213.6h1.25v1.25h-1.25zM749.38 215.38h1.25v1.25h-1.25zM752.94 215.38h1.25v1.25h-1.25zM747.6 217.16h1.25v1.25h-1.25zM751.16 217.16h1.25v1.25h-1.25zM754.72 217.16h1.25v1.25h-1.25zM749.38 218.94h1.25v1.25h-1.25zM752.94 218.94h1.25v1.25h-1.25zM747.6 220.72h1.25v1.25h-1.25zM751.16 220.72h1.25v1.25h-1.25zM754.72 220.72h1.25v1.25h-1.25zM749.38 222.5h1.25v1.25h-1.25zM752.94 222.5h1.25v1.25h-1.25zM747.6 224.28h1.25v1.25h-1.25zM751.16 224.28h1.25v1.25h-1.25zM754.72 224.28h1.25v1.25h-1.25zM749.38 226.06h1.25v1.25h-1.25zM752.94 226.06h1.25v1.25h-1.25zM747.6 227.84h1.25v1.25h-1.25zM751.16 227.84h1.25v1.25h-1.25zM754.72 227.84h1.25v1.25h-1.25zM749.38 229.62h1.25v1.25h-1.25zM752.94 229.62h1.25v1.25h-1.25zM747.6 231.4h1.25v1.25h-1.25zM751.16 231.4h1.25v1.25h-1.25zM754.72 231.4h1.25v1.25h-1.25zM749.38 233.18h1.25v1.25h-1.25zM752.94 233.18h1.25v1.25h-1.25zM747.6 234.96h1.25v1.25h-1.25zM751.16 234.96h1.25v1.25h-1.25zM754.72 234.96h1.25v1.25h-1.25zM749.38 236.74h1.25v1.25h-1.25zM752.94 236.74h1.25v1.25h-1.25zM747.6 238.52h1.25v1.25h-1.25zM751.16 238.52h1.25v1.25h-1.25zM754.72 238.52h1.25v1.25h-1.25zM749.38 240.3h1.25v1.25h-1.25zM752.94 240.3h1.25v1.25h-1.25zM747.6 242.08h1.25v1.25h-1.25zM751.16 242.08h1.25v1.25h-1.25zM754.72 242.08h1.25v1.25h-1.25zM749.38 243.86h1.25v1.25h-1.25zM752.94 243.86h1.25v1.25h-1.25zM747.6 245.64h1.25v1.25h-1.25zM751.16 245.64h1.25v1.25h-1.25zM754.72 245.64h1.25v1.25h-1.25zM749.38 247.42h1.25v1.25h-1.25zM752.94 247.42h1.25v1.25h-1.25zM747.6 249.2h1.25v1.25h-1.25zM751.16 249.2h1.25v1.25h-1.25zM754.72 249.2h1.25v1.25h-1.25zM749.38 250.98h1.25v1.25h-1.25zM752.94 250.98h1.25v1.25h-1.25zM747.6 252.76h1.25v1.25h-1.25zM751.16 252.76h1.25v1.25h-1.25zM754.72 252.76h1.25v1.25h-1.25zM749.38 254.54h1.25v1.25h-1.25zM752.94 254.54h1.25v1.25h-1.25zM747.6 256.32h1.25v1.25h-1.25zM751.16 256.32h1.25v1.25h-1.25zM754.72 256.32h1.25v1.25h-1.25zM749.38 258.1h1.25v1.25h-1.25zM752.94 258.1h1.25v1.25h-1.25zM747.6 259.88h1.25v1.25h-1.25zM751.16 259.88h1.25v1.25h-1.25zM754.72 259.88h1.25v1.25h-1.25zM749.38 261.66h1.25v1.25h-1.25zM752.94 261.66h1.25v1.25h-1.25zM747.6 263.44h1.25v1.25h-1.25zM751.16 263.44h1.25v1.25h-1.25zM754.72 263.44h1.25v1.25h-1.25zM749.38 265.22h1.25v1.25h-1.25zM752.94 265.22h1.25v1.25h-1.25zM747.6 267h1.25v1.25h-1.25zM751.16 267h1.25v1.25h-1.25zM754.72 267h1.25v1.25h-1.25zM749.38 268.78h1.25v1.25h-1.25zM752.94 268.78h1.25v1.25h-1.25zM747.6 270.56h1.25v1.25h-1.25zM751.16 270.56h1.25v1.25h-1.25zM754.72 270.56h1.25v1.25h-1.25zM749.38 272.34h1.25v1.25h-1.25zM752.94 272.34h1.25v1.25h-1.25zM747.6 274.12h1.25v1.25h-1.25zM751.16 274.12h1.25v1.25h-1.25zM754.72 274.12h1.25v1.25h-1.25zM749.38 275.9h1.25v1.25h-1.25zM752.94 275.9h1.25v1.25h-1.25zM747.6 277.68h1.25v1.25h-1.25zM751.16 277.68h1.25v1.25h-1.25zM754.72 277.68h1.25v1.25h-1.25zM749.38 279.46h1.25v1.25h-1.25zM752.94 279.46h1.25v1.25h-1.25zM747.6 281.24h1.25v1.25h-1.25zM751.16 281.24h1.25v1.25h-1.25zM754.72 281.24h1.25v1.25h-1.25zM749.38 283.02h1.25v1.25h-1.25zM752.94 283.02h1.25v1.25h-1.25zM747.6 284.8h1.25v1.25h-1.25zM751.16 284.8h1.25v1.25h-1.25zM754.72 284.8h1.25v1.25h-1.25zM749.38 286.58h1.25v1.25h-1.25zM752.94 286.58h1.25v1.25h-1.25zM747.6 288.36h1.25v1.25h-1.25zM751.16 288.36h1.25v1.25h-1.25zM754.72 288.36h1.25v1.25h-1.25zM749.38 290.14h1.25v1.25h-1.25zM752.94 290.14h1.25v1.25h-1.25zM747.6 291.92h1.25v1.25h-1.25zM751.16 291.92h1.25v1.25h-1.25zM754.72 291.92h1.25v1.25h-1.25zM749.38 293.7h1.25v1.25h-1.25zM752.94 293.7h1.25v1.25h-1.25zM747.6 295.48h1.25v1.25h-1.25zM751.16 295.48h1.25v1.25h-1.25zM754.72 295.48h1.25v1.25h-1.25zM749.38 297.26h1.25v1.25h-1.25zM752.94 297.26h1.25v1.25h-1.25zM747.6 299.04h1.25v1.25h-1.25zM751.16 299.04h1.25v1.25h-1.25zM754.72 299.04h1.25v1.25h-1.25zM749.38 300.82h1.25v1.25h-1.25zM752.94 300.82h1.25v1.25h-1.25zM747.6 302.6h1.25v1.25h-1.25zM751.16 302.6h1.25v1.25h-1.25zM754.72 302.6h1.25v1.25h-1.25zM749.38 304.38h1.25v1.25h-1.25zM752.94 304.38h1.25v1.25h-1.25zM747.6 306.16h1.25v1.25h-1.25zM751.16 306.16h1.25v1.25h-1.25zM754.72 306.16h1.25v1.25h-1.25zM749.38 307.94h1.25v1.25h-1.25zM752.94 307.94h1.25v1.25h-1.25zM747.6 309.72h1.25v1.25h-1.25zM751.16 309.72h1.25v1.25h-1.25zM754.72 309.72h1.25v1.25h-1.25zM749.38 311.5h1.25v1.25h-1.25zM752.94 311.5h1.25v1.25h-1.25zM747.6 313.28h1.25v1.25h-1.25zM751.16 313.28h1.25v1.25h-1.25zM754.72 313.28h1.25v1.25h-1.25zM749.38 315.06h1.25v1.25h-1.25zM752.94 315.06h1.25v1.25h-1.25zM747.6 316.84h1.25v1.25h-1.25zM751.16 316.84h1.25v1.25h-1.25zM754.72 316.84h1.25v1.25h-1.25zM749.38 318.62h1.25v1.25h-1.25zM752.94 318.62h1.25v1.25h-1.25zM747.6 320.4h1.25v1.25h-1.25zM751.16 320.4h1.25v1.25h-1.25zM754.72 320.4h1.25v1.25h-1.25zM749.38 322.18h1.25v1.25h-1.25zM752.94 322.18h1.25v1.25h-1.25zM747.6 323.96h1.25v1.25h-1.25zM751.16 323.96h1.25v1.25h-1.25zM754.72 323.96h1.25v1.25h-1.25zM749.38 325.74h1.25v1.25h-1.25zM752.94 325.74h1.25v1.25h-1.25zM747.6 327.52h1.25v1.25h-1.25zM751.16 327.52h1.25v1.25h-1.25zM754.72 327.52h1.25v1.25h-1.25zM749.38 329.3h1.25v1.25h-1.25zM752.94 329.3h1.25v1.25h-1.25zM747.6 331.08h1.25v1.25h-1.25zM751.16 331.08h1.25v1.25h-1.25zM754.72 331.08h1.25v1.25h-1.25zM749.38 332.86h1.25v1.25h-1.25zM752.94 332.86h1.25v1.25h-1.25zM747.6 334.64h1.25v1.25h-1.25zM751.16 334.64h1.25v1.25h-1.25zM754.72 334.64h1.25v1.25h-1.25zM749.38 336.42h1.25v1.25h-1.25zM752.94 336.42h1.25v1.25h-1.25zM747.6 338.2h1.25v1.25h-1.25zM751.16 338.2h1.25v1.25h-1.25zM754.72 338.2h1.25v1.25h-1.25zM749.38 339.98h1.25v1.25h-1.25zM752.94 339.98h1.25v1.25h-1.25zM747.6 341.76h1.25v1.25h-1.25zM751.16 341.76h1.25v1.25h-1.25zM754.72 341.76h1.25v1.25h-1.25zM749.38 343.54h1.25v1.25h-1.25zM752.94 343.54h1.25v1.25h-1.25zM747.6 345.32h1.25v1.25h-1.25zM751.16 345.32h1.25v1.25h-1.25zM754.72 345.32h1.25v1.25h-1.25zM749.38 347.1h1.25v1.25h-1.25zM752.94 347.1h1.25v1.25h-1.25zM747.6 348.88h1.25v1.25h-1.25zM751.16 348.88h1.25v1.25h-1.25zM754.72 348.88h1.25v1.25h-1.25zM749.38 350.66h1.25v1.25h-1.25zM752.94 350.66h1.25v1.25h-1.25zM747.6 352.44h1.25v1.25h-1.25zM751.16 352.44h1.25v1.25h-1.25zM754.72 352.44h1.25v1.25h-1.25z" fill="#B4F2CA"/>
<rect x="748.8" y="179.3" width="6" height="1.9" rx="0.8" fill="#0a0a0a"/>
<rect x="762.85" y="191.8" width="9.3" height="163.5" fill="url(#hatchB)" stroke="#000" stroke-width="1"/>
<path d="M767.6 188.3V193.6M764.6 188.3H770.6M764.6 193.6H770.6" stroke="#222" stroke-width="1" fill="none"/>
<rect x="778.15" y="213.6" width="9.95" height="141.7" fill="#C00000" stroke="#000" stroke-width="1"/>
<path d="M783.23 210.4V216.6M780.23 210.4H786.23M780.23 216.6H786.23" stroke="#222" stroke-width="1" fill="none"/>
<path d="M457.6 28V357.5" stroke="#404040" stroke-width="1.4" fill="none"/>
<path d="M452.6 355.3H795.5" stroke="#141414" stroke-width="1.3" fill="none"/>
<path d="M452.6 355.3H457.6" stroke="#383838" stroke-width="1.3" fill="none"/>
<path d="M452.6 273.48H457.6" stroke="#383838" stroke-width="1.3" fill="none"/>
<path d="M452.6 191.65H457.6" stroke="#383838" stroke-width="1.3" fill="none"/>
<path d="M452.6 109.82H457.6" stroke="#383838" stroke-width="1.3" fill="none"/>
<path d="M452.6 28H457.6" stroke="#383838" stroke-width="1.3" fill="none"/>
<path d="M513.7 355.3V357.9" stroke="#202020" stroke-width="1.5" fill="none"/>
<path d="M570.1 355.3V357.9" stroke="#202020" stroke-width="1.5" fill="none"/>
<path d="M626.5 355.3V357.9" stroke="#202020" stroke-width="1.5" fill="none"/>
<path d="M682.9 355.3V357.9" stroke="#202020" stroke-width="1.5" fill="none"/>
<path d="M739.3 355.3V357.9" stroke="#202020" stroke-width="1.5" fill="none"/>
<text x="41" y="357.4" font-size="14.5" font-weight="bold" text-anchor="end" >0</text>
<text x="41" y="276.07" font-size="14.5" font-weight="bold" text-anchor="end" >0.5</text>
<text x="41" y="194.75" font-size="14.5" font-weight="bold" text-anchor="end" >1</text>
<text x="41" y="113.42" font-size="14.5" font-weight="bold" text-anchor="end" >1.5</text>
<text x="41" y="32.1" font-size="14.5" font-weight="bold" text-anchor="end" >2</text>
<text x="445.6" y="359.7" font-size="14.5" font-weight="bold" text-anchor="end" >0</text>
<text x="445.6" y="277.82" font-size="14.5" font-weight="bold" text-anchor="end" >0.5</text>
<text x="445.6" y="195.95" font-size="14.5" font-weight="bold" text-anchor="end" >1</text>
<text x="445.6" y="114.08" font-size="14.5" font-weight="bold" text-anchor="end" >1.5</text>
<text x="445.6" y="32.2" font-size="14.5" font-weight="bold" text-anchor="end" >2</text>
<text x="13.6" y="14.8" font-size="17" font-weight="bold" text-anchor="start" >a<tspan dx="1.0" dy="0.7">)</tspan></text>
<text x="407.2" y="14.8" font-size="17" font-weight="bold" text-anchor="start" >b<tspan dx="1.2" dy="0.7">)</tspan></text>
<text x="63.6" y="49.5" font-size="16.2" font-weight="bold" text-anchor="start" >Day 1</text>
<text x="472.3" y="52.8" font-size="16.2" font-weight="bold" text-anchor="start" >Day 3</text>
<text x="0" y="0" font-size="13.9" font-weight="bold" text-anchor="start" transform="translate(14.5 248.6) rotate(-90)">Metabolic Activity</text>
<text x="0" y="0" font-size="13.9" font-weight="bold" text-anchor="start" transform="translate(419.6 252.3) rotate(-90)">Metabolic Activity</text>
<rect x="163.6" y="45" width="27" height="11.9" fill="#00AD4F" stroke="#000" stroke-width="1"/>
<path d="M167.32 46.28h1.25v1.25h-1.25zM170.88 46.28h1.25v1.25h-1.25zM174.44 46.28h1.25v1.25h-1.25zM178 46.28h1.25v1.25h-1.25zM181.56 46.28h1.25v1.25h-1.25zM185.12 46.28h1.25v1.25h-1.25zM188.68 46.28h1.25v1.25h-1.25zM165.54 48.06h1.25v1.25h-1.25zM169.1 48.06h1.25v1.25h-1.25zM172.66 48.06h1.25v1.25h-1.25zM176.22 48.06h1.25v1.25h-1.25zM179.78 48.06h1.25v1.25h-1.25zM183.34 48.06h1.25v1.25h-1.25zM186.9 48.06h1.25v1.25h-1.25zM167.32 49.84h1.25v1.25h-1.25zM170.88 49.84h1.25v1.25h-1.25zM174.44 49.84h1.25v1.25h-1.25zM178 49.84h1.25v1.25h-1.25zM181.56 49.84h1.25v1.25h-1.25zM185.12 49.84h1.25v1.25h-1.25zM188.68 49.84h1.25v1.25h-1.25zM165.54 51.62h1.25v1.25h-1.25zM169.1 51.62h1.25v1.25h-1.25zM172.66 51.62h1.25v1.25h-1.25zM176.22 51.62h1.25v1.25h-1.25zM179.78 51.62h1.25v1.25h-1.25zM183.34 51.62h1.25v1.25h-1.25zM186.9 51.62h1.25v1.25h-1.25zM167.32 53.4h1.25v1.25h-1.25zM170.88 53.4h1.25v1.25h-1.25zM174.44 53.4h1.25v1.25h-1.25zM178 53.4h1.25v1.25h-1.25zM181.56 53.4h1.25v1.25h-1.25zM185.12 53.4h1.25v1.25h-1.25zM188.68 53.4h1.25v1.25h-1.25z" fill="#B4F2CA"/>
<text x="193.1" y="54.6" font-size="14" font-weight="normal" text-anchor="start" fill="#2a2a2a">MDA-MB-231</text>
<rect x="163.6" y="71.8" width="27" height="11.6" fill="url(#hatchA)" stroke="#000" stroke-width="1"/>
<text x="193.1" y="81.5" font-size="14" font-weight="normal" text-anchor="start" fill="#2a2a2a">T47D</text>
<rect x="163.6" y="98.5" width="27" height="12.4" fill="#C00000" stroke="#000" stroke-width="1"/>
<text x="193.1" y="108.2" font-size="14" font-weight="normal" text-anchor="start" fill="#2a2a2a">MCF-7</text>
<rect x="590.1" y="49.7" width="27" height="12.4" fill="#00AD4F" stroke="#000" stroke-width="1"/>
<path d="M592.74 51.62h1.25v1.25h-1.25zM596.3 51.62h1.25v1.25h-1.25zM599.86 51.62h1.25v1.25h-1.25zM603.42 51.62h1.25v1.25h-1.25zM606.98 51.62h1.25v1.25h-1.25zM610.54 51.62h1.25v1.25h-1.25zM614.1 51.62h1.25v1.25h-1.25zM590.96 53.4h1.25v1.25h-1.25zM594.52 53.4h1.25v1.25h-1.25zM598.08 53.4h1.25v1.25h-1.25zM601.64 53.4h1.25v1.25h-1.25zM605.2 53.4h1.25v1.25h-1.25zM608.76 53.4h1.25v1.25h-1.25zM612.32 53.4h1.25v1.25h-1.25zM592.74 55.18h1.25v1.25h-1.25zM596.3 55.18h1.25v1.25h-1.25zM599.86 55.18h1.25v1.25h-1.25zM603.42 55.18h1.25v1.25h-1.25zM606.98 55.18h1.25v1.25h-1.25zM610.54 55.18h1.25v1.25h-1.25zM614.1 55.18h1.25v1.25h-1.25zM590.96 56.96h1.25v1.25h-1.25zM594.52 56.96h1.25v1.25h-1.25zM598.08 56.96h1.25v1.25h-1.25zM601.64 56.96h1.25v1.25h-1.25zM605.2 56.96h1.25v1.25h-1.25zM608.76 56.96h1.25v1.25h-1.25zM612.32 56.96h1.25v1.25h-1.25zM592.74 58.74h1.25v1.25h-1.25zM596.3 58.74h1.25v1.25h-1.25zM599.86 58.74h1.25v1.25h-1.25zM603.42 58.74h1.25v1.25h-1.25zM606.98 58.74h1.25v1.25h-1.25zM610.54 58.74h1.25v1.25h-1.25zM614.1 58.74h1.25v1.25h-1.25z" fill="#B4F2CA"/>
<text x="619.6" y="58.5" font-size="14" font-weight="normal" text-anchor="start" fill="#2a2a2a">MDA-MB-231</text>
<rect x="590.1" y="77.5" width="27" height="11.4" fill="url(#hatchA)" stroke="#000" stroke-width="1"/>
<text x="619.6" y="87.4" font-size="14" font-weight="normal" text-anchor="start" fill="#2a2a2a">T47D</text>
<rect x="590.1" y="105.7" width="27" height="11.1" fill="#C00000" stroke="#000" stroke-width="1"/>
<text x="619.6" y="115.5" font-size="14" font-weight="normal" text-anchor="start" fill="#2a2a2a">MCF-7</text>
<text x="82" y="372.5" font-size="13" font-weight="bold" text-anchor="middle" >Medium</text>
<text x="82" y="387.8" font-size="13" font-weight="bold" text-anchor="middle" >(control)</text>
<text x="141.2" y="369.6" font-size="13" font-weight="bold" text-anchor="middle" >PBS</text>
<text x="141.2" y="385.4" font-size="13" font-weight="bold" text-anchor="middle" >solution</text>
<text x="199.2" y="370.3" font-size="13" font-weight="bold" text-anchor="middle" >Thiol-ene</text>
<text x="251.1" y="369.6" font-size="13" font-weight="bold" text-anchor="middle" >PEG</text>
<text x="251.1" y="385.4" font-size="13" font-weight="bold" text-anchor="middle" >alkyne</text>
<text x="308.4" y="370.1" font-size="13" font-weight="bold" text-anchor="middle" >Cysteine</text>
<text x="309.2" y="385.6" font-size="13" font-weight="bold" text-anchor="middle" >only</text>
<text x="368.1" y="370.3" font-size="13" font-weight="bold" text-anchor="middle" >Thiol-yne</text>
<text x="485.5" y="374.1" font-size="13" font-weight="bold" text-anchor="middle" >Medium</text>
<text x="485.5" y="390.2" font-size="13" font-weight="bold" text-anchor="middle" >(control)</text>
<text x="542.9" y="374.1" font-size="13" font-weight="bold" text-anchor="middle" >PBS</text>
<text x="542.9" y="389.6" font-size="13" font-weight="bold" text-anchor="middle" >solution</text>
<text x="602.6" y="373" font-size="13" font-weight="bold" text-anchor="middle" >Thiol-ene</text>
<text x="660.7" y="373.5" font-size="13" font-weight="bold" text-anchor="middle" >PEG</text>
<text x="661.3" y="388.8" font-size="13" font-weight="bold" text-anchor="middle" >alkyne</text>
<text x="710.6" y="373.5" font-size="13" font-weight="bold" text-anchor="middle" >Cysteine</text>
<text x="711.1" y="388.8" font-size="13" font-weight="bold" text-anchor="middle" >only</text>
<text x="769.8" y="374.8" font-size="13" font-weight="bold" text-anchor="middle" >Thiol-yne</text>
<text x="210.5" y="230.7" font-size="13.5" font-weight="bold" text-anchor="middle" >&#945;</text>
<text x="249" y="280.2" font-size="13.5" font-weight="bold" text-anchor="middle" >&#945;</text>
<text x="312" y="134.1" font-size="13.5" font-weight="bold" text-anchor="middle" >&#945;</text>
<text x="367.1" y="77.9" font-size="13.5" font-weight="bold" text-anchor="middle" >&#945;</text>
<text x="383.9" y="120.6" font-size="13.5" font-weight="bold" text-anchor="middle" >&#945;</text>
<text x="558" y="192.7" font-size="13.5" font-weight="bold" text-anchor="middle" >&#945;</text>
<text x="615" y="241.5" font-size="13.5" font-weight="bold" text-anchor="middle" >&#945;</text>
<text x="651.4" y="307.2" font-size="13.5" font-weight="bold" text-anchor="middle" >&#945;</text>
<text x="783" y="206.9" font-size="13.5" font-weight="bold" text-anchor="middle" >&#945;</text>
<path d="M232.3 307.6 C232.3 303.85 234.55 301.6 237.3 301.6 H247.6 C249.4 301.6 250.4 300.8 250.6 298.8 M271.2 307.6 C271.2 303.85 268.95 301.6 266.2 301.6 H254 C252.2 301.6 251.2 300.8 251 298.8" stroke="#000" stroke-width="2.1" fill="none"/>
<linearGradient id="tipg250" gradientUnits="userSpaceOnUse" x1="0" y1="288.3" x2="0" y2="301.6"><stop offset="0" stop-color="#777"/><stop offset="0.45" stop-color="#111"/><stop offset="1" stop-color="#000"/></linearGradient>
<path d="M249.4 299.6 C250.2 297.1 250.4 291.3 250.4 288.3 L251.2 288.3 C251.2 291.3 251.4 297.1 252.2 299.6 Z" fill="url(#tipg250)"/>
<path d="M633 335.1 C633 330.05 635.25 327.8 638 327.8 H648.2 C650 327.8 651 327 651.2 325 M671.1 335.1 C671.1 330.05 668.85 327.8 666.1 327.8 H654.6 C652.8 327.8 651.8 327 651.6 325" stroke="#000" stroke-width="2.1" fill="none"/>
<linearGradient id="tipg651" gradientUnits="userSpaceOnUse" x1="0" y1="313.7" x2="0" y2="327.8"><stop offset="0" stop-color="#777"/><stop offset="0.45" stop-color="#111"/><stop offset="1" stop-color="#000"/></linearGradient>
<path d="M650 325.8 C650.8 323.3 651 316.7 651 313.7 L651.8 313.7 C651.8 316.7 652 323.3 652.8 325.8 Z" fill="url(#tipg651)"/>
</svg></body></html>
